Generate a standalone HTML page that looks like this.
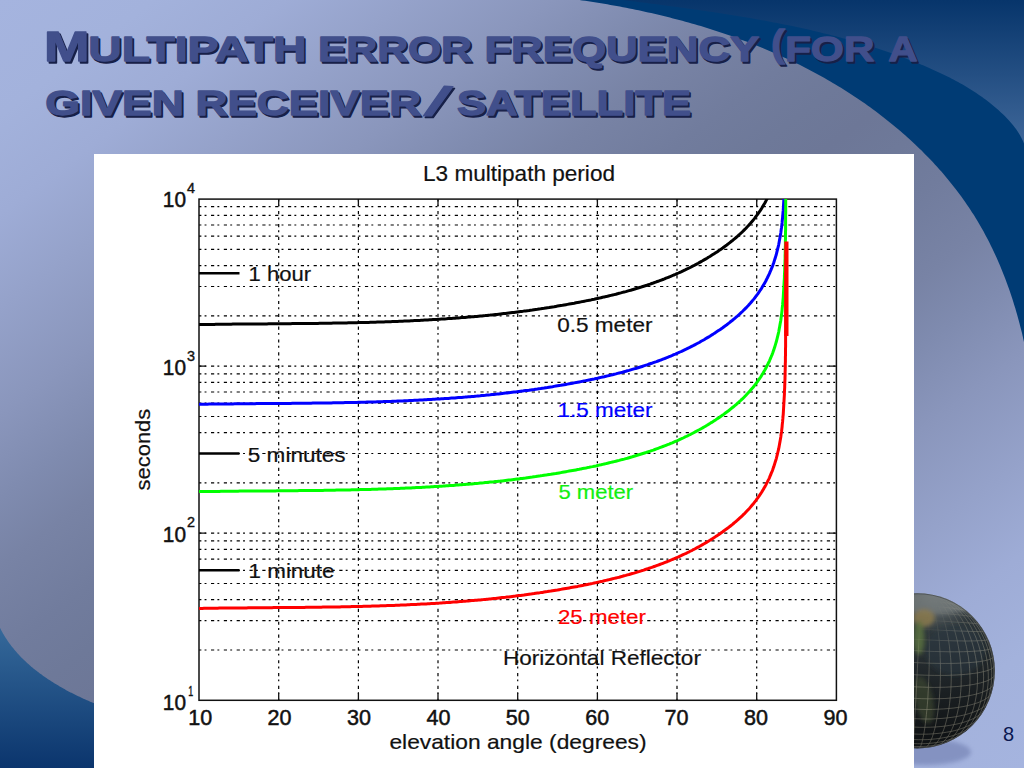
<!DOCTYPE html>
<html><head><meta charset="utf-8"><title>Multipath error frequency</title>
<style>
html,body{margin:0;padding:0;}
body{width:1024px;height:768px;overflow:hidden;position:relative;font-family:"Liberation Sans",sans-serif;
background:linear-gradient(to bottom right,#a5b4df 0.0%,#a3b2dc 7.5%,#9eacd6 14.0%,#95a2ca 20.0%,#8a96bc 27.0%,#7f8baf 32.5%,#7883a5 36.8%,#717c9d 42.5%,#6e7999 46.5%,#6d7797 50.0%,#6e7999 53.5%,#717c9d 57.5%,#7883a5 63.2%,#7f8baf 67.5%,#8a96bc 73.0%,#95a2ca 80.0%,#9eacd6 86.0%,#a3b2dc 92.5%,#a5b4df 100.0%);}
svg{position:absolute;left:0;top:0;}
</style></head><body>
<svg width="1024" height="768" viewBox="0 0 1024 768">
<defs>
<linearGradient id="sw2" gradientUnits="userSpaceOnUse" x1="0" y1="0" x2="0" y2="150"><stop offset="0" stop-color="#07356b"/><stop offset="1" stop-color="#41699b"/></linearGradient>
<linearGradient id="bl" gradientUnits="userSpaceOnUse" x1="0" y1="625" x2="0" y2="768"><stop offset="0" stop-color="#366a9b"/><stop offset="1" stop-color="#0b356d"/></linearGradient>
<radialGradient id="gg" gradientUnits="userSpaceOnUse" cx="935" cy="585" r="150" fx="935" fy="590"><stop offset="0" stop-color="#7f8586"/><stop offset="0.14" stop-color="#565e61"/><stop offset="0.3" stop-color="#2e363a"/><stop offset="0.7" stop-color="#1b2023"/><stop offset="1" stop-color="#101315"/></radialGradient>
<radialGradient id="gmg" gradientUnits="userSpaceOnUse" cx="905" cy="598" r="95"><stop offset="0" stop-color="#000"/><stop offset="0.35" stop-color="#0a0a0a"/><stop offset="0.7" stop-color="#ccc"/><stop offset="1" stop-color="#fff"/></radialGradient>
<filter id="blur2" x="-30%" y="-50%" width="160%" height="200%"><feGaussianBlur stdDeviation="2"/></filter>
<filter id="blur3" x="-30%" y="-30%" width="160%" height="160%"><feGaussianBlur stdDeviation="3"/></filter>
</defs>
<!-- top-right swoosh -->
<path d="M560.1,-2.5 L563.2,-2.1 L566.4,-1.8 L569.5,-1.4 L572.6,-0.9 L575.8,-0.5 L578.9,-0.1 L582.1,0.4 L585.2,0.8 L588.4,1.3 L591.5,1.8 L594.7,2.2 L597.8,2.7 L601.0,3.3 L604.1,3.8 L607.3,4.3 L610.4,4.9 L613.6,5.4 L616.7,6.0 L619.8,6.6 L623.0,7.2 L626.1,7.8 L629.3,8.4 L632.4,9.0 L635.5,9.7 L638.7,10.3 L641.8,11.0 L644.9,11.7 L648.1,12.4 L651.2,13.1 L654.3,13.8 L657.5,14.5 L660.6,15.3 L663.7,16.0 L666.8,16.8 L669.9,17.6 L673.0,18.4 L676.1,19.2 L679.2,20.0 L682.3,20.8 L685.4,21.7 L688.5,22.6 L691.6,23.4 L694.7,24.3 L697.8,25.2 L700.9,26.1 L703.9,27.1 L707.0,28.0 L710.1,29.0 L713.1,29.9 L716.2,30.9 L719.2,31.9 L722.3,33.0 L725.3,34.0 L728.3,35.0 L731.4,36.1 L734.4,37.2 L737.4,38.2 L740.4,39.4 L743.4,40.5 L746.4,41.6 L749.4,42.8 L752.4,43.9 L755.4,45.1 L758.3,46.3 L761.3,47.5 L764.3,48.7 L767.2,50.0 L770.1,51.2 L773.1,52.5 L776.0,53.8 L778.9,55.1 L781.8,56.4 L784.7,57.7 L787.6,59.1 L790.5,60.4 L793.4,61.8 L796.3,63.2 L799.1,64.6 L802.0,66.1 L804.8,67.5 L807.7,69.0 L810.5,70.4 L813.3,71.9 L816.1,73.5 L818.9,75.0 L821.7,76.5 L824.5,78.1 L827.3,79.7 L830.0,81.3 L832.8,82.9 L835.5,84.5 L838.3,86.2 L841.0,87.8 L843.7,89.5 L846.4,91.2 L849.1,92.9 L851.8,94.7 L854.4,96.4 L857.1,98.2 L859.7,100.0 L862.3,101.8 L865.0,103.6 L867.6,105.4 L870.2,107.3 L872.8,109.2 L875.3,111.1 L877.9,113.0 L880.4,114.9 L883.0,116.9 L885.5,118.9 L888.0,120.9 L890.5,122.9 L893.0,124.9 L895.4,126.9 L897.9,129.0 L900.3,131.1 L902.8,133.2 L905.2,135.3 L907.6,137.4 L909.9,139.6 L912.3,141.8 L914.7,143.9 L917.0,146.2 L919.3,148.4 L921.6,150.6 L923.9,152.9 L926.1,155.2 L928.4,157.5 L930.6,159.8 L932.8,162.1 L934.9,164.5 L937.1,166.8 L939.2,169.2 L941.4,171.6 L943.5,174.0 L945.5,176.5 L947.6,178.9 L949.6,181.4 L951.6,183.9 L953.6,186.4 L955.6,188.9 L957.5,191.5 L959.4,194.0 L961.3,196.6 L963.2,199.2 L965.0,201.8 L966.8,204.4 L968.6,207.1 L970.4,209.7 L972.1,212.4 L973.9,215.1 L975.5,217.8 L977.2,220.5 L978.8,223.3 L980.4,226.0 L982.0,228.8 L983.6,231.6 L985.1,234.4 L986.6,237.2 L988.1,240.0 L989.5,242.8 L990.9,245.7 L992.3,248.6 L993.7,251.5 L995.1,254.4 L996.4,257.3 L997.7,260.2 L998.9,263.1 L1000.2,266.1 L1001.4,269.0 L1002.6,272.0 L1003.8,274.9 L1005.0,277.9 L1006.1,280.9 L1007.2,283.9 L1008.3,286.9 L1009.4,290.0 L1010.4,293.0 L1011.4,296.0 L1012.4,299.1 L1013.4,302.2 L1014.3,305.2 L1015.3,308.3 L1016.2,311.4 L1017.1,314.5 L1017.9,317.6 L1018.8,320.7 L1019.6,323.8 L1020.4,326.9 L1021.2,330.0 L1022.0,333.1 L1022.7,336.2 L1023.4,339.4 L1024.1,342.5 L1024.8,345.6 L1025.5,348.8 L1026.1,351.9 L1026.8,355.1 L1027.4,358.2 L1030,-5 L560,-5 Z" fill="#003b74"/>
<path d="M600.0,-3.0 L602.4,-2.7 L604.7,-2.4 L607.1,-2.1 L609.4,-1.8 L611.7,-1.5 L614.1,-1.2 L616.4,-0.9 L618.8,-0.6 L621.1,-0.3 L623.5,0.1 L625.8,0.4 L628.2,0.7 L630.5,1.0 L632.9,1.3 L635.2,1.6 L637.6,1.9 L639.9,2.2 L642.3,2.5 L644.6,2.8 L647.0,3.1 L649.3,3.4 L651.7,3.7 L654.0,4.0 L656.4,4.3 L658.8,4.6 L661.1,4.9 L663.5,5.3 L665.8,5.6 L668.2,5.9 L670.5,6.2 L672.9,6.5 L675.2,6.8 L677.6,7.1 L679.9,7.5 L682.3,7.8 L684.6,8.1 L687.0,8.4 L689.3,8.8 L691.7,9.1 L694.0,9.4 L696.4,9.8 L698.7,10.1 L701.1,10.4 L703.4,10.8 L705.8,11.1 L708.1,11.4 L710.5,11.8 L712.8,12.1 L715.2,12.5 L717.5,12.8 L719.9,13.2 L722.2,13.6 L724.5,13.9 L726.9,14.3 L729.2,14.7 L731.6,15.0 L733.9,15.4 L736.3,15.8 L738.6,16.2 L740.9,16.6 L743.3,16.9 L745.6,17.3 L748.0,17.7 L750.3,18.1 L752.6,18.5 L755.0,18.9 L757.3,19.4 L759.6,19.8 L762.0,20.2 L764.3,20.6 L766.6,21.1 L769.0,21.5 L771.3,21.9 L773.6,22.4 L775.9,22.8 L778.3,23.3 L780.6,23.7 L782.9,24.2 L785.2,24.7 L787.5,25.1 L789.9,25.6 L792.2,26.1 L794.5,26.6 L796.8,27.1 L799.1,27.6 L801.4,28.1 L803.8,28.6 L806.1,29.1 L808.4,29.6 L810.7,30.1 L813.0,30.7 L815.3,31.2 L817.6,31.8 L819.9,32.3 L822.2,32.9 L824.5,33.4 L826.8,34.0 L829.1,34.6 L831.4,35.2 L833.7,35.7 L836.0,36.3 L838.2,36.9 L840.5,37.6 L842.8,38.2 L845.1,38.8 L847.4,39.4 L849.6,40.1 L851.9,40.7 L854.2,41.4 L856.5,42.0 L858.7,42.7 L861.0,43.4 L863.3,44.0 L865.5,44.7 L867.8,45.4 L870.1,46.1 L872.3,46.8 L874.6,47.6 L876.8,48.3 L879.1,49.0 L881.3,49.8 L883.6,50.5 L885.8,51.3 L888.1,52.1 L890.3,52.8 L892.6,53.6 L894.8,54.4 L897.0,55.2 L899.3,56.1 L901.5,56.9 L903.7,57.7 L906.0,58.5 L908.2,59.4 L910.4,60.3 L912.6,61.1 L914.8,62.0 L917.0,62.9 L919.3,63.8 L921.5,64.7 L923.7,65.6 L925.9,66.5 L928.1,67.5 L930.3,68.4 L932.4,69.4 L934.6,70.4 L936.8,71.4 L939.0,72.4 L941.1,73.4 L943.3,74.4 L945.4,75.5 L947.5,76.5 L949.7,77.6 L951.8,78.7 L953.9,79.8 L956.0,80.9 L958.1,82.0 L960.1,83.2 L962.2,84.3 L964.3,85.5 L966.3,86.7 L968.3,88.0 L970.3,89.2 L972.3,90.5 L974.3,91.7 L976.3,93.0 L978.3,94.4 L980.2,95.7 L982.1,97.1 L984.0,98.4 L985.9,99.8 L987.8,101.3 L989.7,102.7 L991.5,104.2 L993.3,105.7 L995.1,107.2 L996.9,108.7 L998.7,110.3 L1000.4,111.9 L1002.1,113.5 L1003.8,115.1 L1005.5,116.8 L1007.1,118.5 L1008.8,120.2 L1010.3,122.0 L1011.8,123.7 L1013.3,125.6 L1014.8,127.4 L1016.2,129.3 L1017.5,131.3 L1018.8,133.2 L1020.0,135.3 L1021.1,137.3 L1022.2,139.4 L1023.2,141.6 L1024.1,143.8 L1025.0,146.0 L1025.7,148.3 L1026.4,150.7 L1027.0,153.1 L1030,-5 L600,-5 Z" fill="url(#sw2)"/>
<!-- bottom-left -->
<path d="M-3.5,620.2 L-3.0,621.2 L-2.6,622.2 L-2.2,623.2 L-1.7,624.1 L-1.3,625.1 L-0.8,626.1 L-0.4,627.1 L0.1,628.0 L0.6,629.0 L1.1,629.9 L1.6,630.9 L2.1,631.8 L2.6,632.7 L3.1,633.7 L3.7,634.6 L4.2,635.5 L4.8,636.4 L5.3,637.3 L5.9,638.2 L6.5,639.0 L7.1,639.9 L7.6,640.8 L8.2,641.7 L8.8,642.5 L9.5,643.4 L10.1,644.2 L10.7,645.0 L11.3,645.9 L12.0,646.7 L12.6,647.5 L13.3,648.3 L13.9,649.1 L14.6,649.9 L15.3,650.7 L16.0,651.5 L16.6,652.3 L17.3,653.1 L18.0,653.9 L18.7,654.6 L19.5,655.4 L20.2,656.2 L20.9,656.9 L21.6,657.7 L22.4,658.4 L23.1,659.1 L23.9,659.9 L24.6,660.6 L25.4,661.3 L26.1,662.0 L26.9,662.7 L27.7,663.4 L28.4,664.1 L29.2,664.8 L30.0,665.5 L30.8,666.2 L31.6,666.9 L32.4,667.5 L33.2,668.2 L34.0,668.9 L34.9,669.5 L35.7,670.2 L36.5,670.8 L37.3,671.5 L38.2,672.1 L39.0,672.8 L39.9,673.4 L40.7,674.0 L41.6,674.6 L42.4,675.2 L43.3,675.9 L44.1,676.5 L45.0,677.1 L45.9,677.7 L46.8,678.3 L47.6,678.9 L48.5,679.4 L49.4,680.0 L50.3,680.6 L51.2,681.2 L52.1,681.8 L53.0,682.3 L53.9,682.9 L54.8,683.4 L55.7,684.0 L56.6,684.6 L57.5,685.1 L58.4,685.6 L59.3,686.2 L60.2,686.7 L61.2,687.3 L62.1,687.8 L63.0,688.3 L63.9,688.8 L64.9,689.3 L65.8,689.9 L66.7,690.4 L67.7,690.9 L68.6,691.4 L69.6,691.9 L70.5,692.4 L71.5,692.8 L72.4,693.3 L73.4,693.8 L74.3,694.3 L75.3,694.8 L76.2,695.2 L77.2,695.7 L78.1,696.2 L79.1,696.6 L80.1,697.1 L81.0,697.5 L82.0,698.0 L83.0,698.4 L84.0,698.9 L84.9,699.3 L85.9,699.7 L86.9,700.2 L87.9,700.6 L88.9,701.0 L89.8,701.4 L90.8,701.9 L91.8,702.3 L92.8,702.7 L93.8,703.1 L94.8,703.5 L95.8,703.9 L96.8,704.3 L97.8,704.7 L98.8,705.1 L99.8,705.4 L100.8,705.8 L101.8,706.2 L102.8,706.6 L103.8,706.9 L104.8,707.3 L105.8,707.7 L106.8,708.0 L107.8,708.4 L108.8,708.7 L109.8,709.1 L110.8,709.4 L111.8,709.8 L112.9,710.1 L113.9,710.5 L114.9,710.8 L115.9,711.1 L116.9,711.5 L117.9,711.8 L118.9,712.1 L120.0,712.4 L121.0,712.7 L122.0,713.0 L123.0,713.4 L124.0,713.7 L125.0,714.0 L126.1,714.3 L127.1,714.6 L128.1,714.8 L129.1,715.1 L130.1,715.4 L131.2,715.7 L132.2,716.0 L133.2,716.3 L134.2,716.5 L135.3,716.8 L136.3,717.1 L137.3,717.3 L138.3,717.6 L139.3,717.8 L140.4,718.1 L141.4,718.3 L142.4,718.6 L143.4,718.8 L144.4,719.1 L145.5,719.3 L146.5,719.6 L147.5,719.8 L148.5,720.0 L149.5,720.3 L150.5,720.5 L151.6,720.7 L152.6,720.9 L153.6,721.1 L154.6,721.3 L155.6,721.6 L156.6,721.8 L157.7,722.0 L158.7,722.2 L159.7,722.4 L160.7,722.6 L161.7,722.8 L162.7,722.9 L163.7,723.1 L164.7,723.3 L165.7,723.5 L166.7,723.7 L167.7,723.9 L168.7,724.0 L169.7,724.2 L170,770 L-3,770 Z" fill="url(#bl)"/>
<!-- globe -->
<ellipse cx="926" cy="752" rx="45" ry="13" fill="#7f8dbd" opacity="0.85" filter="url(#blur2)"/>
<clipPath id="gc"><circle cx="917.3" cy="670.8" r="77.6"/></clipPath>
<circle cx="917.3" cy="670.8" r="77.6" fill="url(#gg)"/>
<g clip-path="url(#gc)">
<g filter="url(#blur2)"><ellipse cx="935" cy="603" rx="42" ry="11" fill="#74797a" opacity="0.75"/><ellipse cx="924" cy="618" rx="11" ry="9" fill="#8a7a4e" opacity="0.85"/><ellipse cx="919" cy="638" rx="5.5" ry="17" fill="#5a713e" opacity="0.85"/><ellipse cx="924" cy="700" rx="9" ry="24" fill="#3d4a33" opacity="0.65" transform="rotate(-12 924 700)"/><ellipse cx="955" cy="650" rx="30" ry="25" fill="#2a3940" opacity="0.5"/></g>
<mask id="gm"><rect x="830" y="580" width="200" height="200" fill="url(#gmg)"/></mask>
<path mask="url(#gm)" d="M887.8,742.6 L890.3,743.5 L892.9,744.4 L895.6,745.1 L898.4,745.8 L901.2,746.4 L904.2,746.9 L907.2,747.4 L910.2,747.7 L913.3,747.9 L916.3,748.0 L919.4,748.0 L922.4,747.9 L925.4,747.7 L928.3,747.4 L931.1,747.0 L933.9,746.5 L936.6,745.9 L939.1,745.3 M874.3,735.4 L876.5,736.7 L878.8,737.9 L881.3,739.1 L884.0,740.3 L886.8,741.3 L889.8,742.3 L892.9,743.2 L896.1,744.0 L899.4,744.7 L902.8,745.3 L906.3,745.7 L909.8,746.1 L913.3,746.4 L916.9,746.5 L920.4,746.5 L923.9,746.4 L927.4,746.2 L930.7,745.8 L934.0,745.4 L937.2,744.8 L940.3,744.1 L943.2,743.4 L946.0,742.5 L948.6,741.6 L951.0,740.6 L953.3,739.5 M865.5,728.5 L867.4,730.0 L869.6,731.5 L872.0,732.9 L874.5,734.3 L877.3,735.6 L880.3,736.9 L883.5,738.0 L886.8,739.1 L890.3,740.1 L893.9,741.0 L897.7,741.7 L901.5,742.4 L905.5,742.9 L909.5,743.3 L913.5,743.6 L917.5,743.7 L921.5,743.8 L925.5,743.6 L929.4,743.4 L933.2,743.0 L936.9,742.5 L940.5,741.9 L943.9,741.2 L947.2,740.4 L950.3,739.4 L953.2,738.4 L955.9,737.3 L958.4,736.1 L960.7,734.9 L962.8,733.6 M857.5,720.2 L859.0,721.8 L860.8,723.4 L862.9,725.0 L865.2,726.5 L867.8,728.0 L870.6,729.5 L873.6,730.9 L876.9,732.2 L880.4,733.5 L884.1,734.6 L887.9,735.7 L892.0,736.6 L896.1,737.5 L900.4,738.2 L904.8,738.7 L909.2,739.2 L913.7,739.5 L918.2,739.7 L922.6,739.7 L927.1,739.6 L931.4,739.3 L935.6,738.9 L939.7,738.4 L943.7,737.7 L947.5,737.0 L951.1,736.1 L954.4,735.1 L957.6,734.0 L960.6,732.9 L963.3,731.6 L965.7,730.3 L967.9,729.0 L969.9,727.6 L971.7,726.1 M851.8,712.3 L853.2,713.9 L854.8,715.6 L856.7,717.2 L858.9,718.8 L861.3,720.4 L864.1,722.0 L867.1,723.5 L870.3,724.9 L873.9,726.3 L877.6,727.6 L881.6,728.8 L885.8,729.9 L890.2,730.9 L894.8,731.8 L899.4,732.6 L904.2,733.2 L909.1,733.7 L914.0,734.0 L918.9,734.2 L923.8,734.2 L928.6,734.1 L933.3,733.8 L938.0,733.4 L942.4,732.9 L946.7,732.2 L950.8,731.5 L954.7,730.6 L958.3,729.6 L961.7,728.5 L964.9,727.3 L967.8,726.0 L970.4,724.7 L972.7,723.3 L974.8,721.9 L976.6,720.4 L978.1,718.9 M847.1,703.6 L848.2,705.2 L849.6,706.9 L851.3,708.5 L853.2,710.1 L855.5,711.7 L858.1,713.3 L860.9,714.8 L864.1,716.4 L867.6,717.8 L871.3,719.2 L875.3,720.5 L879.6,721.8 L884.1,722.9 L888.8,723.9 L893.7,724.8 L898.7,725.6 L903.8,726.2 L909.1,726.7 L914.4,727.1 L919.6,727.3 L924.9,727.3 L930.1,727.2 L935.2,727.0 L940.1,726.6 L944.9,726.1 L949.5,725.4 L953.9,724.6 L958.0,723.8 L961.9,722.8 L965.5,721.7 L968.8,720.5 L971.8,719.3 L974.5,717.9 L976.9,716.6 L979.0,715.2 L980.9,713.7 L982.4,712.3 L983.7,710.8 M843.5,694.4 L844.3,695.9 L845.4,697.4 L846.8,699.0 L848.5,700.5 L850.5,702.1 L852.8,703.6 L855.5,705.2 L858.5,706.7 L861.8,708.1 L865.4,709.6 L869.3,710.9 L873.5,712.2 L878.0,713.4 L882.8,714.5 L887.7,715.5 L892.9,716.4 L898.2,717.2 L903.7,717.9 L909.2,718.4 L914.8,718.7 L920.4,718.9 L925.9,719.0 L931.4,719.0 L936.8,718.7 L942.0,718.4 L947.1,717.9 L951.9,717.3 L956.5,716.6 L960.8,715.7 L964.9,714.8 L968.6,713.7 L972.1,712.6 L975.2,711.4 L978.0,710.2 L980.5,708.9 L982.6,707.5 L984.5,706.2 L986.0,704.8 L987.3,703.4 L988.3,702.0 M841.0,684.8 L841.5,686.1 L842.3,687.5 L843.4,688.9 L844.8,690.4 L846.6,691.8 L848.6,693.3 L851.0,694.7 L853.7,696.1 L856.8,697.6 L860.2,698.9 L863.9,700.3 L868.0,701.6 L872.4,702.8 L877.0,704.0 L881.9,705.0 L887.1,706.0 L892.5,706.9 L898.0,707.6 L903.7,708.2 L909.5,708.7 L915.3,709.1 L921.1,709.4 L926.9,709.5 L932.6,709.4 L938.2,709.2 L943.7,708.9 L948.9,708.5 L953.9,708.0 L958.6,707.3 L963.1,706.6 L967.3,705.7 L971.1,704.8 L974.7,703.7 L977.9,702.7 L980.7,701.5 L983.3,700.3 L985.4,699.1 L987.3,697.8 L988.9,696.6 L990.1,695.3 L991.0,694.0 L991.7,692.7 M839.8,675.1 L840.1,676.2 L840.6,677.4 L841.4,678.7 L842.5,679.9 L843.9,681.2 L845.6,682.5 L847.7,683.8 L850.1,685.1 L852.9,686.4 L856.0,687.7 L859.5,689.0 L863.3,690.2 L867.4,691.4 L871.9,692.5 L876.7,693.5 L881.7,694.5 L887.0,695.4 L892.5,696.2 L898.2,696.9 L904.0,697.5 L909.9,698.0 L915.9,698.4 L921.8,698.7 L927.8,698.8 L933.6,698.8 L939.3,698.7 L944.9,698.5 L950.2,698.1 L955.3,697.7 L960.2,697.1 L964.7,696.5 L969.0,695.7 L972.9,694.9 L976.5,694.0 L979.7,693.1 L982.6,692.1 L985.1,691.0 L987.3,689.9 L989.2,688.8 L990.7,687.7 L992.0,686.6 L992.9,685.4 L993.5,684.3 L993.9,683.1 M839.9,666.4 L840.1,667.4 L840.6,668.5 L841.5,669.5 L842.6,670.6 L844.0,671.7 L845.7,672.8 L847.8,673.9 L850.3,675.1 L853.1,676.2 L856.2,677.3 L859.7,678.4 L863.5,679.4 L867.7,680.5 L872.2,681.5 L877.0,682.4 L882.1,683.3 L887.4,684.1 L892.9,684.8 L898.6,685.5 L904.5,686.0 L910.5,686.5 L916.5,686.9 L922.5,687.1 L928.4,687.3 L934.3,687.4 L940.1,687.3 L945.7,687.2 L951.0,686.9 L956.2,686.6 L961.1,686.1 L965.6,685.6 L969.9,685.0 L973.8,684.4 L977.4,683.6 L980.6,682.9 L983.5,682.0 L986.1,681.2 L988.3,680.3 L990.1,679.4 L991.6,678.4 L992.9,677.5 L993.8,676.5 L994.4,675.5 L994.7,674.6 M841.0,657.7 L841.2,658.5 L841.8,659.3 L842.6,660.2 L843.7,661.1 L845.2,662.0 L846.9,662.9 L849.0,663.8 L851.4,664.7 L854.2,665.7 L857.3,666.6 L860.8,667.5 L864.6,668.4 L868.8,669.3 L873.2,670.1 L878.0,670.9 L883.0,671.6 L888.3,672.3 L893.8,673.0 L899.5,673.6 L905.3,674.1 L911.1,674.5 L917.1,674.9 L923.0,675.1 L928.9,675.3 L934.8,675.4 L940.4,675.4 L946.0,675.4 L951.3,675.2 L956.4,675.0 L961.2,674.7 L965.7,674.3 L969.9,673.9 L973.8,673.4 L977.4,672.9 L980.6,672.3 L983.4,671.6 L986.0,671.0 L988.1,670.3 L990.0,669.6 L991.5,668.8 L992.7,668.1 L993.6,667.3 L994.2,666.5 L994.6,665.8 M843.0,648.4 L843.1,649.0 L843.4,649.6 L843.9,650.3 L844.8,650.9 L845.9,651.6 L847.4,652.3 L849.1,653.0 L851.2,653.7 L853.6,654.4 L856.4,655.1 L859.5,655.8 L862.9,656.6 L866.6,657.3 L870.7,658.0 L875.1,658.6 L879.7,659.3 L884.6,659.9 L889.7,660.5 L895.1,661.0 L900.6,661.5 L906.2,662.0 L912.0,662.4 L917.7,662.7 L923.5,663.0 L929.2,663.2 L934.9,663.3 L940.4,663.4 L945.8,663.4 L951.0,663.4 L955.9,663.3 L960.6,663.1 L965.0,662.9 L969.1,662.6 L972.9,662.3 L976.4,662.0 L979.5,661.6 L982.3,661.1 L984.8,660.7 L986.9,660.2 L988.8,659.7 L990.3,659.1 L991.5,658.6 L992.4,658.0 L993.0,657.5 L993.4,656.9 L993.5,656.3 M846.1,640.1 L846.2,640.5 L846.5,640.9 L847.2,641.4 L848.0,641.8 L849.2,642.3 L850.7,642.8 L852.4,643.3 L854.5,643.8 L856.8,644.3 L859.5,644.8 L862.5,645.4 L865.8,645.9 L869.4,646.4 L873.4,647.0 L877.6,647.5 L882.0,648.0 L886.7,648.5 L891.6,648.9 L896.8,649.4 L902.0,649.8 L907.4,650.2 L912.8,650.5 L918.3,650.8 L923.9,651.1 L929.3,651.3 L934.7,651.5 L940.0,651.6 L945.1,651.7 L950.0,651.8 L954.8,651.8 L959.3,651.8 L963.5,651.7 L967.4,651.6 L971.1,651.4 L974.4,651.2 L977.5,651.0 L980.2,650.8 L982.6,650.5 L984.7,650.2 L986.5,649.9 L988.0,649.6 L989.2,649.2 L990.1,648.9 L990.8,648.5 L991.2,648.1 L991.3,647.7 M850.1,632.2 L850.3,632.4 L850.7,632.6 L851.4,632.9 L852.3,633.2 L853.4,633.4 L854.9,633.7 L856.6,634.1 L858.6,634.4 L860.9,634.7 L863.5,635.1 L866.4,635.4 L869.6,635.8 L873.0,636.1 L876.7,636.5 L880.7,636.9 L884.9,637.2 L889.3,637.6 L894.0,637.9 L898.7,638.3 L903.7,638.6 L908.7,638.9 L913.8,639.2 L918.9,639.5 L924.1,639.8 L929.2,640.0 L934.2,640.2 L939.2,640.4 L944.0,640.6 L948.6,640.7 L953.0,640.8 L957.3,640.9 L961.2,640.9 L965.0,641.0 L968.4,641.0 L971.6,640.9 L974.5,640.9 L977.1,640.8 L979.5,640.7 L981.5,640.6 L983.2,640.5 L984.7,640.3 L985.9,640.2 L986.9,640.0 L987.5,639.8 L988.0,639.6 L988.2,639.4 M855.0,624.7 L855.3,624.8 L855.7,624.8 L856.4,624.9 L857.4,625.1 L858.5,625.2 L860.0,625.3 L861.7,625.5 L863.6,625.6 L865.8,625.8 L868.3,626.0 L871.0,626.2 L874.0,626.4 L877.2,626.7 L880.6,626.9 L884.3,627.1 L888.2,627.4 L892.3,627.6 L896.6,627.9 L901.0,628.1 L905.5,628.4 L910.1,628.6 L914.8,628.9 L919.5,629.2 L924.2,629.4 L928.9,629.6 L933.5,629.9 L938.0,630.1 L942.4,630.3 L946.7,630.5 L950.8,630.6 L954.7,630.8 L958.3,631.0 L961.8,631.1 L965.0,631.2 L968.0,631.3 L970.8,631.4 L973.2,631.5 L975.4,631.5 L977.4,631.5 L979.1,631.6 L980.5,631.6 L981.7,631.6 L982.6,631.6 L983.3,631.5 L983.8,631.5 L984.1,631.4 M860.7,617.8 L861.0,617.8 L861.6,617.7 L862.3,617.7 L863.3,617.7 L864.4,617.7 L865.8,617.7 L867.4,617.7 L869.3,617.8 L871.3,617.8 L873.6,617.9 L876.1,618.0 L878.9,618.1 L881.8,618.2 L885.0,618.3 L888.4,618.4 L891.9,618.6 L895.6,618.8 L899.4,618.9 L903.4,619.1 L907.4,619.3 L911.6,619.5 L915.8,619.7 L920.0,619.9 L924.2,620.2 L928.4,620.4 L932.5,620.6 L936.5,620.9 L940.5,621.1 L944.3,621.3 L948.0,621.5 L951.5,621.8 L954.9,622.0 L958.1,622.2 L961.0,622.4 L963.7,622.6 L966.3,622.8 L968.6,622.9 L970.6,623.1 L972.5,623.2 L974.1,623.4 L975.4,623.5 L976.6,623.6 L977.5,623.7 L978.3,623.8 L978.8,623.9 L979.1,624.0 M867.1,611.6 L867.5,611.5 L868.1,611.4 L868.8,611.3 L869.8,611.2 L870.9,611.1 L872.2,611.0 L873.7,611.0 L875.4,610.9 L877.3,610.9 L879.4,610.9 L881.7,610.9 L884.2,610.9 L886.9,610.9 L889.7,610.9 L892.7,611.0 L895.8,611.1 L899.0,611.2 L902.4,611.3 L905.9,611.4 L909.4,611.6 L913.0,611.7 L916.7,611.9 L920.4,612.1 L924.1,612.3 L927.7,612.5 L931.3,612.7 L934.9,612.9 L938.3,613.2 L941.7,613.4 L944.9,613.7 L948.1,613.9 L951.0,614.2 L953.8,614.4 L956.5,614.7 L958.9,614.9 L961.2,615.1 L963.3,615.4 L965.2,615.6 L966.9,615.9 L968.4,616.1 L969.7,616.3 L970.8,616.5 L971.7,616.7 L972.4,616.9 L973.0,617.0 L973.4,617.2 M874.2,606.3 L874.6,606.1 L875.2,606.0 L875.9,605.8 L876.8,605.7 L877.9,605.5 L879.1,605.4 L880.5,605.3 L882.0,605.2 L883.7,605.1 L885.6,605.0 L887.6,604.9 L889.8,604.9 L892.1,604.9 L894.5,604.9 L897.1,604.9 L899.8,604.9 L902.6,604.9 L905.4,605.0 L908.4,605.1 L911.4,605.2 L914.5,605.3 L917.6,605.5 L920.7,605.6 L923.8,605.8 L926.9,606.0 L930.0,606.2 L933.0,606.4 L936.0,606.6 L938.8,606.8 L941.6,607.1 L944.3,607.3 L946.9,607.6 L949.3,607.9 L951.6,608.1 L953.7,608.4 L955.7,608.7 L957.6,608.9 L959.3,609.2 L960.8,609.5 L962.2,609.7 L963.3,610.0 L964.4,610.2 L965.3,610.5 L966.0,610.7 L966.5,611.0 L966.9,611.2 M882.1,601.7 L882.6,601.5 L883.3,601.3 L884.2,601.1 L885.1,601.0 L886.2,600.8 L887.4,600.7 L888.8,600.6 L890.3,600.4 L891.8,600.3 L893.6,600.3 L895.4,600.2 L897.3,600.1 L899.4,600.1 L901.5,600.1 L903.8,600.1 L906.1,600.1 L908.4,600.1 L910.9,600.2 L913.4,600.3 L915.9,600.3 L918.4,600.5 L921.0,600.6 L923.5,600.7 L926.1,600.9 L928.6,601.1 L931.1,601.2 L933.5,601.4 L935.9,601.7 L938.2,601.9 L940.4,602.1 L942.5,602.4 L944.5,602.6 L946.5,602.9 L948.3,603.1 L950.0,603.4 L951.6,603.7 L953.0,603.9 L954.3,604.2 L955.5,604.5 L956.6,604.7 L957.5,605.0 L958.3,605.2 L959.0,605.5 L959.6,605.7 M890.4,598.0 L891.0,597.9 L891.7,597.7 L892.6,597.5 L893.5,597.4 L894.5,597.2 L895.6,597.1 L896.8,597.0 L898.1,596.9 L899.5,596.8 L901.0,596.7 L902.6,596.7 L904.2,596.6 L905.9,596.6 L907.7,596.6 L909.5,596.6 L911.4,596.6 L913.3,596.6 L915.2,596.7 L917.2,596.8 L919.2,596.8 L921.2,596.9 L923.2,597.1 L925.1,597.2 L927.1,597.3 L929.1,597.5 L931.0,597.6 L932.8,597.8 L934.6,598.0 L936.4,598.2 L938.1,598.4 L939.7,598.6 L941.2,598.9 L942.7,599.1 L944.1,599.3 L945.4,599.6 L946.6,599.8 L947.7,600.0 L948.7,600.3 L949.6,600.5 L950.4,600.8 L951.1,601.0 L951.7,601.2 M900.0,595.2 L900.7,595.1 L901.5,594.9 L902.4,594.8 L903.3,594.7 L904.3,594.7 L905.4,594.6 L906.5,594.5 L907.6,594.5 L908.9,594.4 L910.1,594.4 L911.4,594.4 L912.8,594.4 L914.1,594.4 L915.5,594.4 L917.0,594.4 L918.4,594.5 L919.8,594.5 L921.3,594.6 L922.7,594.7 L924.2,594.8 L925.6,594.9 L927.0,595.0 L928.4,595.1 L929.8,595.3 L931.1,595.4 L932.4,595.6 L933.7,595.7 L934.9,595.9 L936.0,596.1 L937.1,596.2 L938.2,596.4 L939.1,596.6 L940.1,596.8 L940.9,597.0 L941.7,597.2 L942.4,597.4 M911.0,593.5 L911.7,593.4 L912.5,593.4 L913.3,593.4 L914.1,593.3 L915.0,593.3 L915.8,593.3 L916.7,593.3 L917.6,593.3 L918.6,593.4 L919.5,593.4 L920.4,593.4 L921.4,593.5 L922.3,593.5 L923.2,593.6 L924.1,593.7 L925.1,593.7 L926.0,593.8 L926.8,593.9 L927.7,594.0 L928.6,594.1 L929.4,594.2 L930.2,594.3 L930.9,594.4 L931.7,594.6 M839.8,675.1 L839.7,670.8 L839.9,666.4 L840.3,662.1 L841.0,657.7 L841.9,653.3 L843.1,649.0 L844.5,644.7 L846.2,640.5 L848.1,636.4 L850.3,632.4 L852.7,628.5 L855.3,624.8 L858.1,621.2 L861.0,617.8 L864.2,614.5 L867.5,611.5 L871.0,608.7 L874.6,606.1 L878.3,603.8 L882.1,601.7 L885.9,599.8 M844.8,698.3 L843.5,694.4 L842.4,690.3 L841.5,686.1 L840.9,681.8 L840.6,677.4 L840.5,673.0 L840.6,668.5 L841.1,663.9 L841.8,659.3 L842.7,654.8 L843.9,650.3 L845.4,645.8 L847.2,641.4 L849.1,637.1 L851.4,632.9 L853.8,628.8 L856.4,624.9 L859.3,621.2 L862.3,617.7 L865.5,614.4 L868.8,611.3 L872.3,608.4 L875.9,605.8 L879.6,603.4 L883.3,601.3 L887.2,599.5 L891.0,597.9 L894.9,596.5 M853.9,715.5 L851.8,712.3 L849.9,708.9 L848.2,705.2 L846.7,701.4 L845.4,697.4 L844.3,693.2 L843.4,688.9 L842.8,684.5 L842.5,679.9 L842.4,675.3 L842.6,670.6 L843.0,665.8 L843.7,661.1 L844.7,656.3 L845.9,651.6 L847.4,646.9 L849.2,642.3 L851.2,637.8 L853.4,633.4 L855.9,629.2 L858.5,625.2 L861.4,621.3 L864.4,617.7 L867.6,614.3 L870.9,611.1 L874.3,608.2 L877.9,605.5 L881.5,603.1 L885.1,601.0 L888.8,599.1 L892.6,597.5 L896.3,596.2 L900.0,595.2 M861.3,724.5 L859.0,721.8 L856.8,718.8 L854.8,715.6 L852.9,712.1 L851.3,708.5 L849.8,704.6 L848.5,700.5 L847.4,696.2 L846.6,691.8 L846.0,687.2 L845.6,682.5 L845.6,677.7 L845.7,672.8 L846.2,667.9 L846.9,662.9 L847.9,657.9 L849.1,653.0 L850.6,648.1 L852.4,643.3 L854.4,638.6 L856.6,634.1 L859.0,629.7 L861.7,625.5 L864.5,621.5 L867.4,617.7 L870.5,614.2 L873.7,611.0 L877.1,608.0 L880.5,605.3 L883.9,602.8 L887.4,600.7 L891.0,598.8 L894.5,597.2 L898.0,596.0 L901.5,594.9 L905.0,594.2 M869.8,732.2 L867.4,730.0 L865.1,727.6 L862.9,725.0 L860.8,722.0 L858.9,718.8 L857.1,715.4 L855.5,711.7 L854.1,707.8 L852.8,703.6 L851.8,699.3 L851.0,694.7 L850.4,690.0 L850.1,685.1 L850.1,680.1 L850.3,675.1 L850.7,669.9 L851.4,664.7 L852.4,659.6 L853.6,654.4 L855.1,649.3 L856.8,644.3 L858.8,639.4 L860.9,634.7 L863.3,630.2 L865.8,625.8 L868.5,621.7 L871.3,617.8 L874.3,614.2 L877.3,610.9 L880.5,607.8 L883.7,605.1 L887.0,602.6 L890.3,600.4 L893.5,598.6 L896.8,597.0 L900.1,595.7 L903.3,594.7 L906.5,594.0 M876.5,736.7 L874.2,734.9 L872.0,732.9 L869.8,730.6 L867.8,728.0 L865.9,725.1 L864.1,722.0 L862.4,718.6 L860.9,714.8 L859.6,710.9 L858.5,706.7 L857.5,702.2 L856.8,697.6 L856.3,692.7 L856.0,687.7 L856.0,682.5 L856.2,677.3 L856.6,672.0 L857.3,666.6 L858.3,661.2 L859.5,655.8 L860.9,650.6 L862.5,645.4 L864.4,640.3 L866.4,635.4 L868.6,630.7 L871.0,626.2 L873.5,622.0 L876.1,618.0 L878.9,614.3 L881.7,610.9 L884.6,607.7 L887.6,604.9 L890.6,602.4 L893.6,600.3 L896.6,598.4 L899.5,596.8 L902.5,595.6 L905.4,594.6 L908.2,593.9 L911.0,593.5 M883.4,740.5 L881.3,739.1 L879.3,737.5 L877.3,735.6 L875.4,733.4 L873.6,730.9 L871.9,728.1 L870.3,724.9 L868.9,721.5 L867.6,717.8 L866.4,713.8 L865.4,709.6 L864.6,705.0 L863.9,700.3 L863.5,695.3 L863.3,690.2 L863.3,684.9 L863.5,679.4 L864.0,673.9 L864.6,668.4 L865.5,662.8 L866.6,657.3 L867.9,651.8 L869.4,646.4 L871.1,641.2 L873.0,636.1 L875.0,631.3 L877.2,626.7 L879.5,622.3 L881.8,618.2 L884.3,614.4 L886.9,610.9 L889.4,607.7 L892.1,604.9 L894.7,602.3 L897.3,600.1 L900.0,598.3 L902.6,596.7 L905.1,595.4 L907.6,594.5 L910.1,593.8 L912.5,593.4 M890.3,743.5 L888.5,742.6 L886.8,741.3 L885.1,739.8 L883.5,738.0 L881.9,735.9 L880.4,733.5 L879.0,730.7 L877.6,727.6 L876.4,724.2 L875.3,720.5 L874.3,716.5 L873.5,712.2 L872.9,707.6 L872.4,702.8 L872.0,697.7 L871.9,692.5 L871.9,687.0 L872.2,681.5 L872.6,675.8 L873.2,670.1 L874.1,664.4 L875.1,658.6 L876.2,653.0 L877.6,647.5 L879.1,642.1 L880.7,636.9 L882.5,631.9 L884.3,627.1 L886.3,622.6 L888.4,618.4 L890.5,614.6 L892.7,611.0 L894.9,607.8 L897.1,604.9 L899.3,602.3 L901.5,600.1 L903.7,598.2 L905.9,596.6 L908.0,595.3 L910.1,594.4 L912.2,593.7 L914.1,593.3 M895.6,745.1 L894.2,744.3 L892.9,743.2 L891.6,741.8 L890.3,740.1 L889.1,738.0 L887.9,735.7 L886.8,733.0 L885.8,729.9 L884.9,726.6 L884.1,722.9 L883.4,718.9 L882.8,714.5 L882.3,709.9 L881.9,705.0 L881.7,699.9 L881.7,694.5 L881.8,689.0 L882.1,683.3 L882.5,677.5 L883.0,671.6 L883.7,665.8 L884.6,659.9 L885.6,654.1 L886.7,648.5 L888.0,642.9 L889.3,637.6 L890.8,632.5 L892.3,627.6 L893.9,623.0 L895.6,618.8 L897.3,614.8 L899.0,611.2 L900.8,607.9 L902.6,604.9 L904.3,602.3 L906.1,600.1 L907.8,598.2 L909.5,596.6 L911.1,595.3 L912.8,594.4 L914.3,593.7 L915.8,593.3 M902.2,746.9 L901.2,746.4 L900.3,745.7 L899.4,744.7 L898.5,743.4 L897.7,741.7 L896.9,739.8 L896.1,737.5 L895.4,734.8 L894.8,731.8 L894.2,728.5 L893.7,724.8 L893.2,720.8 L892.9,716.4 L892.6,711.8 L892.5,706.9 L892.4,701.7 L892.5,696.2 L892.6,690.6 L892.9,684.8 L893.3,678.9 L893.8,673.0 L894.4,667.0 L895.1,661.0 L895.9,655.1 L896.8,649.4 L897.7,643.7 L898.7,638.3 L899.8,633.1 L901.0,628.1 L902.2,623.5 L903.4,619.1 L904.6,615.1 L905.9,611.4 L907.1,608.1 L908.4,605.1 L909.6,602.5 L910.9,600.2 L912.1,598.3 L913.3,596.6 L914.4,595.4 L915.5,594.4 L916.6,593.7 L917.6,593.3 M907.6,747.7 L907.2,747.4 L906.7,746.7 L906.3,745.7 L905.9,744.5 L905.5,742.9 L905.1,741.0 L904.8,738.7 L904.5,736.1 L904.2,733.2 L904.0,729.9 L903.8,726.2 L903.7,722.2 L903.7,717.9 L903.6,713.2 L903.7,708.2 L903.8,703.0 L904.0,697.5 L904.2,691.9 L904.5,686.0 L904.8,680.1 L905.3,674.1 L905.7,668.0 L906.2,662.0 L906.8,656.0 L907.4,650.2 L908.0,644.4 L908.7,638.9 L909.4,633.7 L910.1,628.6 L910.8,623.9 L911.6,619.5 L912.3,615.4 L913.0,611.7 L913.8,608.3 L914.5,605.3 L915.2,602.7 L915.9,600.3 L916.5,598.4 L917.2,596.8 L917.8,595.5 L918.4,594.5 L919.0,593.8 L919.5,593.4 M913.2,748.2 L913.3,747.9 L913.3,747.3 L913.3,746.4 L913.4,745.1 L913.5,743.6 L913.6,741.7 L913.7,739.5 L913.8,736.9 L914.0,734.0 L914.2,730.7 L914.4,727.1 L914.6,723.1 L914.8,718.7 L915.0,714.1 L915.3,709.1 L915.6,703.9 L915.9,698.4 L916.2,692.7 L916.5,686.9 L916.8,680.9 L917.1,674.9 L917.4,668.8 L917.7,662.7 L918.0,656.7 L918.3,650.8 L918.6,645.1 L918.9,639.5 L919.2,634.2 L919.5,629.2 L919.7,624.4 L920.0,619.9 L920.2,615.8 L920.4,612.1 L920.6,608.7 L920.7,605.6 L920.9,602.9 L921.0,600.6 L921.1,598.6 L921.2,596.9 L921.2,595.6 L921.3,594.6 L921.3,593.9 L921.4,593.5 M918.9,748.3 L919.4,748.0 L919.9,747.4 L920.4,746.5 L921.0,745.3 L921.5,743.8 L922.1,741.9 L922.6,739.7 L923.2,737.1 L923.8,734.2 L924.3,730.9 L924.9,727.3 L925.4,723.3 L925.9,719.0 L926.4,714.4 L926.9,709.5 L927.4,704.2 L927.8,698.8 L928.1,693.1 L928.4,687.3 L928.7,681.3 L928.9,675.3 L929.1,669.2 L929.2,663.2 L929.3,657.2 L929.3,651.3 L929.3,645.6 L929.2,640.0 L929.0,634.7 L928.9,629.6 L928.6,624.9 L928.4,620.4 L928.1,616.3 L927.7,612.5 L927.3,609.0 L926.9,606.0 L926.5,603.3 L926.1,600.9 L925.6,598.9 L925.1,597.2 L924.7,595.8 L924.2,594.8 L923.7,594.0 L923.2,593.6 M924.4,748.0 L925.4,747.7 L926.4,747.1 L927.4,746.2 L928.4,744.9 L929.4,743.4 L930.4,741.5 L931.4,739.3 L932.4,736.8 L933.3,733.8 L934.3,730.6 L935.2,727.0 L936.0,723.0 L936.8,718.7 L937.6,714.1 L938.2,709.2 L938.8,704.1 L939.3,698.7 L939.7,693.1 L940.1,687.3 L940.3,681.4 L940.4,675.4 L940.5,669.4 L940.4,663.4 L940.2,657.5 L940.0,651.6 L939.6,645.9 L939.2,640.4 L938.6,635.1 L938.0,630.1 L937.3,625.3 L936.5,620.9 L935.7,616.7 L934.9,612.9 L934.0,609.5 L933.0,606.4 L932.1,603.6 L931.1,601.2 L930.1,599.2 L929.1,597.5 L928.0,596.1 L927.0,595.0 L926.0,594.2 L925.1,593.7 M931.1,747.0 L932.6,746.3 L934.0,745.4 L935.5,744.1 L936.9,742.5 L938.3,740.6 L939.7,738.4 L941.1,735.8 L942.4,732.9 L943.7,729.7 L944.9,726.1 L946.0,722.1 L947.1,717.9 L948.0,713.4 L948.9,708.5 L949.6,703.4 L950.2,698.1 L950.7,692.6 L951.0,686.9 L951.2,681.1 L951.3,675.2 L951.2,669.3 L951.0,663.4 L950.6,657.5 L950.0,651.8 L949.4,646.1 L948.6,640.7 L947.7,635.5 L946.7,630.5 L945.5,625.7 L944.3,621.3 L943.0,617.2 L941.7,613.4 L940.3,610.0 L938.8,606.8 L937.4,604.1 L935.9,601.7 L934.3,599.6 L932.8,597.8 L931.3,596.4 L929.8,595.3 L928.3,594.4 L926.8,593.9 M936.6,745.9 L938.4,745.2 L940.3,744.1 L942.1,742.8 L943.9,741.2 L945.7,739.2 L947.5,737.0 L949.2,734.4 L950.8,731.5 L952.4,728.2 L953.9,724.6 L955.2,720.8 L956.5,716.6 L957.6,712.1 L958.6,707.3 L959.5,702.3 L960.2,697.1 L960.7,691.7 L961.1,686.1 L961.2,680.5 L961.2,674.7 L961.0,668.9 L960.6,663.1 L960.0,657.4 L959.3,651.8 L958.3,646.2 L957.3,640.9 L956.0,635.7 L954.7,630.8 L953.2,626.1 L951.5,621.8 L949.8,617.7 L948.1,613.9 L946.2,610.5 L944.3,607.3 L942.4,604.6 L940.4,602.1 L938.4,600.0 L936.4,598.2 L934.4,596.7 L932.4,595.6 L930.5,594.7 L928.6,594.1 M943.8,743.7 L946.0,742.5 L948.1,741.1 L950.3,739.4 L952.4,737.4 L954.4,735.1 L956.4,732.5 L958.3,729.6 L960.2,726.3 L961.9,722.8 L963.4,718.9 L964.9,714.8 L966.2,710.4 L967.3,705.7 L968.2,700.8 L969.0,695.7 L969.5,690.4 L969.9,685.0 L970.0,679.5 L969.9,673.9 L969.6,668.3 L969.1,662.6 L968.4,657.1 L967.4,651.6 L966.3,646.2 L965.0,641.0 L963.5,635.9 L961.8,631.1 L960.0,626.5 L958.1,622.2 L956.0,618.1 L953.8,614.4 L951.6,611.0 L949.3,607.9 L946.9,605.1 L944.5,602.6 L942.1,600.5 L939.7,598.6 L937.3,597.1 L934.9,595.9 L932.5,595.0 L930.2,594.3 M951.0,740.6 L953.5,739.1 L955.9,737.3 L958.3,735.2 L960.6,732.9 L962.8,730.2 L964.9,727.3 L966.9,724.0 L968.8,720.5 L970.5,716.7 L972.1,712.6 L973.5,708.3 L974.7,703.7 L975.7,699.0 L976.5,694.0 L977.1,688.9 L977.4,683.6 L977.5,678.3 L977.4,672.9 L977.0,667.4 L976.4,662.0 L975.5,656.6 L974.4,651.2 L973.1,646.0 L971.6,640.9 L969.9,636.0 L968.0,631.3 L966.0,626.8 L963.7,622.6 L961.4,618.6 L958.9,614.9 L956.4,611.5 L953.7,608.4 L951.0,605.6 L948.3,603.1 L945.5,600.9 L942.7,599.1 L939.9,597.5 L937.1,596.2 L934.4,595.3 L931.7,594.6 M958.1,736.8 L960.7,734.9 L963.3,732.8 L965.7,730.3 L968.1,727.7 L970.4,724.7 L972.5,721.4 L974.5,717.9 L976.3,714.2 L978.0,710.2 L979.5,706.0 L980.7,701.5 L981.8,696.9 L982.6,692.1 L983.2,687.1 L983.5,682.0 L983.6,676.9 L983.4,671.6 L983.0,666.4 L982.3,661.1 L981.4,655.9 L980.2,650.8 L978.8,645.7 L977.1,640.8 L975.3,636.0 L973.2,631.5 L971.0,627.1 L968.6,622.9 L966.0,619.0 L963.3,615.4 L960.5,612.0 L957.6,608.9 L954.6,606.1 L951.6,603.7 L948.5,601.5 L945.4,599.6 L942.3,597.9 L939.1,596.6 L936.1,595.6 M967.3,730.1 L969.9,727.6 L972.4,724.9 L974.8,721.9 L977.0,718.6 L979.0,715.2 L980.9,711.5 L982.6,707.5 L984.2,703.4 L985.4,699.1 L986.5,694.6 L987.3,689.9 L987.9,685.2 L988.3,680.3 L988.3,675.3 L988.1,670.3 L987.7,665.2 L986.9,660.2 L986.0,655.2 L984.7,650.2 L983.2,645.4 L981.5,640.6 L979.5,636.0 L977.4,631.5 L975.0,627.3 L972.5,623.2 L969.7,619.4 L966.9,615.9 L963.9,612.5 L960.8,609.5 L957.6,606.7 L954.3,604.2 L951.0,602.0 L947.7,600.0 L944.3,598.4 L940.9,597.0 L937.5,595.9 M975.7,721.9 L978.1,718.9 L980.3,715.7 L982.4,712.3 L984.3,708.6 L986.0,704.8 L987.6,700.8 L988.9,696.6 L989.9,692.2 L990.7,687.7 L991.3,683.1 L991.6,678.4 L991.7,673.6 L991.5,668.8 L991.0,664.0 L990.3,659.1 L989.3,654.3 L988.0,649.6 L986.5,644.9 L984.7,640.3 L982.7,635.9 L980.5,631.6 L978.1,627.5 L975.4,623.5 L972.6,619.8 L969.7,616.3 L966.6,613.0 L963.3,610.0 L960.0,607.2 L956.6,604.7 L953.1,602.5 L949.6,600.5 L946.0,598.8 L942.4,597.4 M986.6,705.7 L988.3,702.0 L989.8,698.0 L991.0,694.0 L992.1,689.8 L992.9,685.4 L993.5,681.0 L993.8,676.5 L993.8,671.9 L993.6,667.3 L993.1,662.7 L992.4,658.0 L991.4,653.4 L990.1,648.9 L988.6,644.4 L986.9,640.0 L984.8,635.7 L982.6,631.6 L980.2,627.6 L977.5,623.7 L974.7,620.1 L971.7,616.7 L968.6,613.5 L965.3,610.5 L961.8,607.7 L958.3,605.2 L954.7,603.0 L951.1,601.0 L947.4,599.3 M993.9,683.1 L994.5,678.9 L994.7,674.6 L994.8,670.2 L994.6,665.8 L994.1,661.3 L993.4,656.9 L992.4,652.5 L991.2,648.1 L989.7,643.8 L988.0,639.6 L986.0,635.5 L983.8,631.5 L981.4,627.6 L978.8,623.9 L976.0,620.4 L973.0,617.0 L969.8,613.9 L966.5,611.0 L963.1,608.2 L959.6,605.7 L955.9,603.5" fill="none" stroke="#cfc8ae" stroke-width="0.6" opacity="0.5"/>
</g>
<circle cx="917.3" cy="670.8" r="77.1" fill="none" stroke="#3a4046" stroke-width="1" opacity="0.6" clip-path="url(#gc)"/>
<!-- title -->
<g font-family="Liberation Sans, sans-serif" font-weight="bold" stroke-width="1.3" stroke-linejoin="round">
<g fill="#172048" stroke="#172048" transform="translate(1.7,1.7)">
<text transform="translate(43.94,60.95) skewX(0)" textLength="45.49" lengthAdjust="spacingAndGlyphs"><tspan font-size="43.2">M</tspan></text>
<text transform="translate(88.36,60.95) skewX(0)" textLength="217.88" lengthAdjust="spacingAndGlyphs"><tspan font-size="34.5">ULTIPATH</tspan></text>
<text transform="translate(317.95,60.95) skewX(0)" textLength="153.86" lengthAdjust="spacingAndGlyphs"><tspan font-size="34.5">ERROR</tspan></text>
<text transform="translate(484.38,60.95) skewX(0)" textLength="274.82" lengthAdjust="spacingAndGlyphs"><tspan font-size="34.5">FREQUENCY</tspan></text>
<text transform="translate(770.96,55.9) skewX(0)" textLength="13.84" lengthAdjust="spacingAndGlyphs"><tspan font-size="37.6">(</tspan></text>
<text transform="translate(784.95,60.95) skewX(0)" textLength="89.46" lengthAdjust="spacingAndGlyphs"><tspan font-size="34.5">FOR</tspan></text>
<text transform="translate(888.37,60.95) skewX(0)" textLength="29.25" lengthAdjust="spacingAndGlyphs"><tspan font-size="34.5">A</tspan></text>
<text transform="translate(45.36,115.25) skewX(0)" textLength="138.49" lengthAdjust="spacingAndGlyphs"><tspan font-size="34.5">GIVEN</tspan></text>
<text transform="translate(195.58,115.25) skewX(0)" textLength="225.42" lengthAdjust="spacingAndGlyphs"><tspan font-size="34.5">RECEIVER</tspan></text>
<text transform="translate(457.00,115.25) skewX(0)" textLength="234.00" lengthAdjust="spacingAndGlyphs"><tspan font-size="34.5">SATELLITE</tspan></text>
<path d="M423.5,115.8 L431.6,115.8 L452.9,86.6 L444.3,86.1 Z"/>
</g>
<g fill="#414f8b" stroke="#414f8b">
<text transform="translate(43.94,60.95) skewX(0)" textLength="45.49" lengthAdjust="spacingAndGlyphs"><tspan font-size="43.2">M</tspan></text>
<text transform="translate(88.36,60.95) skewX(0)" textLength="217.88" lengthAdjust="spacingAndGlyphs"><tspan font-size="34.5">ULTIPATH</tspan></text>
<text transform="translate(317.95,60.95) skewX(0)" textLength="153.86" lengthAdjust="spacingAndGlyphs"><tspan font-size="34.5">ERROR</tspan></text>
<text transform="translate(484.38,60.95) skewX(0)" textLength="274.82" lengthAdjust="spacingAndGlyphs"><tspan font-size="34.5">FREQUENCY</tspan></text>
<text transform="translate(770.96,55.9) skewX(0)" textLength="13.84" lengthAdjust="spacingAndGlyphs"><tspan font-size="37.6">(</tspan></text>
<text transform="translate(784.95,60.95) skewX(0)" textLength="89.46" lengthAdjust="spacingAndGlyphs"><tspan font-size="34.5">FOR</tspan></text>
<text transform="translate(888.37,60.95) skewX(0)" textLength="29.25" lengthAdjust="spacingAndGlyphs"><tspan font-size="34.5">A</tspan></text>
<text transform="translate(45.36,115.25) skewX(0)" textLength="138.49" lengthAdjust="spacingAndGlyphs"><tspan font-size="34.5">GIVEN</tspan></text>
<text transform="translate(195.58,115.25) skewX(0)" textLength="225.42" lengthAdjust="spacingAndGlyphs"><tspan font-size="34.5">RECEIVER</tspan></text>
<text transform="translate(457.00,115.25) skewX(0)" textLength="234.00" lengthAdjust="spacingAndGlyphs"><tspan font-size="34.5">SATELLITE</tspan></text>
<path d="M423.5,115.8 L431.6,115.8 L452.9,86.6 L444.3,86.1 Z"/>
</g>
</g>
<!-- chart -->
<rect x="94" y="154" width="820" height="614" fill="#fff"/>
<g stroke="#000" stroke-width="1.2" fill="none" stroke-dasharray="3.2 3.2 1.9 4.53" stroke-dashoffset="0.83" >
<path d="M199.0,650.0H836.4"/>
<path d="M199.0,620.6H836.4"/>
<path d="M199.0,599.7H836.4"/>
<path d="M199.0,583.5H836.4"/>
<path d="M199.0,570.3H836.4"/>
<path d="M199.0,559.1H836.4"/>
<path d="M199.0,549.4H836.4"/>
<path d="M199.0,540.9H836.4"/>
<path d="M199.0,533.2H836.4"/>
<path d="M199.0,482.9H836.4"/>
<path d="M199.0,453.5H836.4"/>
<path d="M199.0,432.6H836.4"/>
<path d="M199.0,416.5H836.4"/>
<path d="M199.0,403.2H836.4"/>
<path d="M199.0,392.0H836.4"/>
<path d="M199.0,382.4H836.4"/>
<path d="M199.0,373.8H836.4"/>
<path d="M199.0,366.2H836.4"/>
<path d="M199.0,315.9H836.4"/>
<path d="M199.0,286.5H836.4"/>
<path d="M199.0,265.6H836.4"/>
<path d="M199.0,249.4H836.4"/>
<path d="M199.0,236.2H836.4"/>
<path d="M199.0,225.0H836.4"/>
<path d="M199.0,215.3H836.4"/>
<path d="M199.0,206.7H836.4"/>
<path d="M278.7,199.1V700.3"/>
<path d="M358.4,199.1V700.3"/>
<path d="M438.0,199.1V700.3"/>
<path d="M517.7,199.1V700.3"/>
<path d="M597.4,199.1V700.3"/>
<path d="M677.0,199.1V700.3"/>
<path d="M756.7,199.1V700.3"/>
</g>
<rect x="199.0" y="199.1" width="637.4" height="501.2" fill="none" stroke="#111" stroke-width="1.5"/>
<g stroke="#111" stroke-width="1.3">
<path d="M278.7,700.3v-7M278.7,199.1v7"/>
<path d="M358.4,700.3v-7M358.4,199.1v7"/>
<path d="M438.0,700.3v-7M438.0,199.1v7"/>
<path d="M517.7,700.3v-7M517.7,199.1v7"/>
<path d="M597.4,700.3v-7M597.4,199.1v7"/>
<path d="M677.0,700.3v-7M677.0,199.1v7"/>
<path d="M756.7,700.3v-7M756.7,199.1v7"/>
<path d="M199.0,533.2h7M836.4,533.2h-7"/>
<path d="M199.0,366.2h7M836.4,366.2h-7"/>
</g>
<clipPath id="pc"><rect x="199.0" y="199.1" width="637.4" height="501.2"/></clipPath>
<g clip-path="url(#pc)" fill="none" stroke-width="3" stroke-linejoin="round">
<path d="M198.9,324.6 L200.6,324.5 L202.3,324.5 L204.0,324.5 L205.7,324.5 L207.4,324.4 L209.1,324.4 L210.8,324.4 L212.5,324.4 L214.2,324.4 L215.9,324.3 L217.6,324.3 L219.3,324.3 L221.0,324.3 L222.7,324.3 L224.4,324.2 L226.1,324.2 L227.8,324.2 L229.5,324.2 L231.2,324.2 L232.9,324.1 L234.6,324.1 L236.3,324.1 L238.0,324.1 L239.7,324.1 L241.4,324.1 L243.1,324.0 L244.8,324.0 L246.5,324.0 L248.2,324.0 L249.9,324.0 L251.6,324.0 L253.3,324.0 L255.0,323.9 L256.7,323.9 L258.4,323.9 L260.1,323.9 L261.8,323.9 L263.5,323.9 L265.2,323.9 L266.9,323.9 L268.6,323.8 L270.3,323.8 L272.0,323.8 L273.7,323.8 L275.4,323.8 L277.1,323.8 L278.8,323.8 L280.5,323.7 L282.2,323.7 L283.9,323.7 L285.6,323.7 L287.3,323.7 L289.0,323.7 L290.7,323.7 L292.4,323.6 L294.1,323.6 L295.8,323.6 L297.5,323.6 L299.2,323.6 L300.9,323.6 L302.6,323.5 L304.3,323.5 L306.0,323.5 L307.7,323.5 L309.4,323.5 L311.1,323.4 L312.8,323.4 L314.5,323.4 L316.2,323.4 L317.9,323.4 L319.6,323.3 L321.2,323.3 L322.9,323.3 L324.6,323.3 L326.3,323.2 L328.0,323.2 L329.7,323.2 L331.4,323.2 L333.1,323.1 L334.8,323.1 L336.5,323.1 L338.2,323.0 L339.9,323.0 L341.6,323.0 L343.3,322.9 L345.0,322.9 L346.7,322.9 L348.4,322.8 L350.1,322.8 L351.8,322.8 L353.5,322.7 L355.2,322.7 L356.9,322.7 L358.5,322.6 L360.2,322.6 L361.9,322.5 L363.6,322.5 L365.3,322.5 L367.0,322.4 L368.7,322.4 L370.4,322.3 L372.1,322.3 L373.8,322.2 L375.5,322.2 L377.2,322.1 L378.9,322.1 L380.6,322.0 L382.3,321.9 L383.9,321.9 L385.6,321.8 L387.3,321.8 L389.0,321.7 L390.7,321.7 L392.4,321.6 L394.1,321.5 L395.8,321.5 L397.5,321.4 L399.2,321.3 L400.9,321.3 L402.6,321.2 L404.3,321.1 L405.9,321.0 L407.6,321.0 L409.3,320.9 L411.0,320.8 L412.7,320.7 L414.4,320.6 L416.1,320.6 L417.8,320.5 L419.5,320.4 L421.2,320.3 L422.8,320.2 L424.5,320.1 L426.2,320.0 L427.9,319.9 L429.6,319.8 L431.3,319.7 L433.0,319.6 L434.7,319.5 L436.4,319.4 L438.0,319.3 L439.7,319.2 L441.4,319.1 L443.1,319.0 L444.8,318.9 L446.5,318.8 L448.2,318.6 L449.9,318.5 L451.5,318.4 L453.2,318.3 L454.9,318.2 L456.6,318.0 L458.3,317.9 L460.0,317.8 L461.7,317.6 L463.4,317.5 L465.0,317.4 L466.7,317.2 L468.4,317.1 L470.1,316.9 L471.8,316.8 L473.5,316.7 L475.2,316.5 L476.8,316.4 L478.5,316.2 L480.2,316.0 L481.9,315.9 L483.6,315.7 L485.3,315.6 L486.9,315.4 L488.6,315.2 L490.3,315.1 L492.0,314.9 L493.7,314.7 L495.4,314.5 L497.0,314.4 L498.7,314.2 L500.4,314.0 L502.1,313.8 L503.8,313.6 L505.5,313.4 L507.1,313.2 L508.8,313.0 L510.5,312.8 L512.2,312.6 L513.9,312.4 L515.5,312.2 L517.2,312.0 L518.9,311.8 L520.6,311.6 L522.3,311.4 L523.9,311.1 L525.6,310.9 L527.3,310.7 L529.0,310.5 L530.7,310.2 L532.3,310.0 L534.0,309.7 L535.7,309.5 L537.4,309.3 L539.1,309.0 L540.7,308.8 L542.4,308.5 L544.1,308.3 L545.8,308.0 L547.4,307.7 L549.1,307.5 L550.8,307.2 L552.5,306.9 L554.1,306.7 L555.8,306.4 L557.5,306.1 L559.2,305.8 L560.8,305.5 L562.5,305.3 L564.2,305.0 L565.9,304.7 L567.5,304.4 L569.2,304.1 L570.9,303.8 L572.6,303.5 L574.2,303.2 L575.9,302.8 L577.6,302.5 L579.3,302.2 L580.9,301.9 L582.6,301.6 L584.3,301.2 L585.9,300.9 L587.6,300.6 L589.3,300.2 L591.0,299.9 L592.6,299.5 L594.3,299.2 L596.0,298.8 L597.6,298.4 L599.3,298.1 L601.0,297.7 L602.6,297.3 L604.3,296.9 L606.0,296.6 L607.6,296.2 L609.3,295.8 L610.9,295.4 L612.6,295.0 L614.2,294.6 L615.9,294.2 L617.5,293.7 L619.2,293.3 L620.8,292.9 L622.5,292.4 L624.1,292.0 L625.8,291.6 L627.4,291.1 L629.1,290.6 L630.7,290.2 L632.3,289.7 L634.0,289.2 L635.6,288.7 L637.2,288.3 L638.8,287.8 L640.5,287.3 L642.1,286.7 L643.7,286.2 L645.3,285.7 L646.9,285.2 L648.5,284.6 L650.1,284.1 L651.7,283.5 L653.3,283.0 L654.9,282.4 L656.5,281.8 L658.1,281.3 L659.7,280.7 L661.3,280.1 L662.9,279.5 L664.5,278.9 L666.0,278.2 L667.6,277.6 L669.2,277.0 L670.7,276.3 L672.3,275.7 L673.8,275.0 L675.4,274.4 L676.9,273.7 L678.5,273.0 L680.0,272.3 L681.6,271.6 L683.1,270.9 L684.6,270.2 L686.1,269.4 L687.7,268.7 L689.2,268.0 L690.7,267.2 L692.2,266.4 L693.7,265.7 L695.2,264.9 L696.7,264.1 L698.2,263.3 L699.7,262.4 L701.1,261.6 L702.6,260.8 L704.1,259.9 L705.5,259.1 L707.0,258.2 L708.4,257.3 L709.9,256.5 L711.3,255.6 L712.8,254.6 L714.2,253.7 L715.6,252.8 L717.0,251.9 L718.5,250.9 L719.9,249.9 L721.3,249.0 L722.7,248.0 L724.0,247.0 L725.4,246.0 L726.8,245.0 L728.2,243.9 L729.5,242.9 L730.8,241.8 L732.2,240.8 L733.5,239.7 L734.8,238.6 L736.1,237.5 L737.4,236.4 L738.6,235.2 L739.9,234.1 L741.1,233.0 L742.4,231.8 L743.6,230.6 L744.8,229.4 L746.0,228.2 L747.1,227.0 L748.3,225.8 L749.4,224.5 L750.5,223.3 L751.6,222.0 L752.7,220.7 L753.8,219.4 L754.8,218.1 L755.8,216.7 L756.8,215.4 L757.8,214.0 L758.8,212.7 L759.7,211.3 L760.7,209.9 L761.6,208.5 L762.4,207.1 L763.3,205.6 L764.1,204.2 L765.0,202.7 L765.8,201.2 L766.5,199.8 L767.3,198.3 L768.0,196.8 L768.8,195.3 L769.5,193.7 L770.1,192.2 L770.8,190.6 L771.4,189.1 L772.1,187.5 L772.7,186.0 L773.2,184.4 L773.8,182.8 L774.3,181.2 L774.8,179.6 L775.3,178.0 L775.8,176.4 L776.3,174.8 L776.7,173.1 L777.1,171.5 L777.5,169.8 L777.9,168.2 L778.3,166.5 L778.7,164.9 L779.0,163.2 L779.3,161.6 L779.6,159.9 L779.9,158.2 L780.2,156.5 L780.5,154.8 L780.8,153.2 L781.0,151.5 L781.2,149.8 L781.5,148.1 L781.7,146.4 L781.9,144.7 L782.1,143.0 L782.2,141.3 L782.4,139.5 L782.6,137.8 L782.7,136.1 L782.9,134.4 L783.0,132.7 L783.2,131.0 L783.3,129.3 L783.4,127.5 L783.5,125.8 L783.6,124.1 L783.7,122.4 L783.8,120.7 L783.9,119.0 L784.0,117.3 L784.1,115.6 L784.2,113.8 L784.3,112.1 L784.4,110.4 L784.4,108.7 L784.5,107.0 L784.6,105.3 L784.7,103.6 L784.7,101.9 L784.8,100.2 L784.8,98.5 L784.9,96.8 L785.0,95.1 L785.0,93.4 L785.1,91.7 L785.1,90.0 L785.1,88.3 L785.2,86.6 L785.2,85.0 L785.3,83.3 L785.3,81.6 L785.3,79.9 L785.4,78.2 L785.4,76.5 L785.4,74.8 L785.4,73.1 L785.5,71.4 L785.5,69.8 L785.5,68.1 L785.5,66.4 L785.5,64.7 L785.6,63.0 L785.6,61.3 L785.6,59.6 L785.6,58.0 L785.6,56.3 L785.6,54.6 L785.6,52.9 L785.6,51.2 L785.6,49.5 L785.6,47.8 L785.7,46.2 L785.7,44.5 L785.7,42.8 L785.7,41.1 L785.7,39.4 L785.7,37.7 L785.7,36.1 L785.7,34.4 L785.7,32.7 L785.7,31.0 L785.7,29.3 L785.7,27.6 L785.7,26.0 L785.7,24.3 L785.7,22.6 L785.7,20.9 L785.7,19.2 L785.7,17.5 L785.7,15.8 L785.7,14.1 L785.7,12.5 L785.7,10.8 L785.7,9.1 L785.7,7.4 L785.7,5.7 L785.7,4.0 L785.7,2.3 L785.8,0.6 L785.8,-1.1 L785.8,-2.8 L785.8,-4.5 L785.8,-6.2 L785.8,-7.9 L785.8,-9.5 L785.9,-11.2 L785.9,-12.9 L785.9,-14.6 L785.9,-16.3 L785.9,-18.0 L786.0,-19.7 L786.0,-21.5 L786.0,-23.2 L786.1,-24.9 L786.1,-26.6 L786.1,-28.3 L786.2,-30.0 L786.2,-31.7 L786.3,-33.4 L786.3,-35.1 L786.4,-36.8 L786.4,-38.6 L786.5,-40.3 L786.5,-42.0" stroke="#000000"/>
<path d="M198.9,404.3 L200.6,404.3 L202.3,404.2 L204.0,404.2 L205.7,404.2 L207.4,404.2 L209.1,404.1 L210.8,404.1 L212.5,404.1 L214.2,404.1 L215.9,404.0 L217.6,404.0 L219.3,404.0 L221.0,404.0 L222.7,404.0 L224.4,403.9 L226.1,403.9 L227.8,403.9 L229.5,403.9 L231.2,403.9 L232.9,403.9 L234.6,403.8 L236.3,403.8 L238.0,403.8 L239.7,403.8 L241.4,403.8 L243.1,403.8 L244.8,403.7 L246.5,403.7 L248.2,403.7 L249.9,403.7 L251.6,403.7 L253.3,403.7 L255.0,403.7 L256.7,403.6 L258.4,403.6 L260.1,403.6 L261.8,403.6 L263.5,403.6 L265.2,403.6 L266.9,403.6 L268.6,403.6 L270.3,403.5 L272.0,403.5 L273.7,403.5 L275.4,403.5 L277.1,403.5 L278.8,403.5 L280.5,403.5 L282.2,403.4 L283.9,403.4 L285.6,403.4 L287.3,403.4 L289.0,403.4 L290.7,403.4 L292.4,403.3 L294.1,403.3 L295.8,403.3 L297.5,403.3 L299.2,403.3 L300.9,403.3 L302.6,403.2 L304.3,403.2 L306.0,403.2 L307.7,403.2 L309.4,403.2 L311.1,403.2 L312.8,403.1 L314.5,403.1 L316.2,403.1 L317.9,403.1 L319.6,403.0 L321.2,403.0 L322.9,403.0 L324.6,403.0 L326.3,402.9 L328.0,402.9 L329.7,402.9 L331.4,402.9 L333.1,402.8 L334.8,402.8 L336.5,402.8 L338.2,402.8 L339.9,402.7 L341.6,402.7 L343.3,402.7 L345.0,402.6 L346.7,402.6 L348.4,402.6 L350.1,402.5 L351.8,402.5 L353.5,402.4 L355.2,402.4 L356.9,402.4 L358.5,402.3 L360.2,402.3 L361.9,402.2 L363.6,402.2 L365.3,402.2 L367.0,402.1 L368.7,402.1 L370.4,402.0 L372.1,402.0 L373.8,401.9 L375.5,401.9 L377.2,401.8 L378.9,401.8 L380.6,401.7 L382.3,401.7 L383.9,401.6 L385.6,401.5 L387.3,401.5 L389.0,401.4 L390.7,401.4 L392.4,401.3 L394.1,401.2 L395.8,401.2 L397.5,401.1 L399.2,401.0 L400.9,401.0 L402.6,400.9 L404.3,400.8 L405.9,400.7 L407.6,400.7 L409.3,400.6 L411.0,400.5 L412.7,400.4 L414.4,400.3 L416.1,400.3 L417.8,400.2 L419.5,400.1 L421.2,400.0 L422.8,399.9 L424.5,399.8 L426.2,399.7 L427.9,399.6 L429.6,399.5 L431.3,399.4 L433.0,399.3 L434.7,399.2 L436.4,399.1 L438.0,399.0 L439.7,398.9 L441.4,398.8 L443.1,398.7 L444.8,398.6 L446.5,398.5 L448.2,398.4 L449.9,398.2 L451.5,398.1 L453.2,398.0 L454.9,397.9 L456.6,397.7 L458.3,397.6 L460.0,397.5 L461.7,397.4 L463.4,397.2 L465.0,397.1 L466.7,396.9 L468.4,396.8 L470.1,396.7 L471.8,396.5 L473.5,396.4 L475.2,396.2 L476.8,396.1 L478.5,395.9 L480.2,395.8 L481.9,395.6 L483.6,395.4 L485.3,395.3 L486.9,395.1 L488.6,394.9 L490.3,394.8 L492.0,394.6 L493.7,394.4 L495.4,394.2 L497.0,394.1 L498.7,393.9 L500.4,393.7 L502.1,393.5 L503.8,393.3 L505.5,393.1 L507.1,392.9 L508.8,392.7 L510.5,392.5 L512.2,392.3 L513.9,392.1 L515.5,391.9 L517.2,391.7 L518.9,391.5 L520.6,391.3 L522.3,391.1 L523.9,390.8 L525.6,390.6 L527.3,390.4 L529.0,390.2 L530.7,389.9 L532.3,389.7 L534.0,389.5 L535.7,389.2 L537.4,389.0 L539.1,388.7 L540.7,388.5 L542.4,388.2 L544.1,388.0 L545.8,387.7 L547.4,387.5 L549.1,387.2 L550.8,386.9 L552.5,386.7 L554.1,386.4 L555.8,386.1 L557.5,385.8 L559.2,385.5 L560.8,385.3 L562.5,385.0 L564.2,384.7 L565.9,384.4 L567.5,384.1 L569.2,383.8 L570.9,383.5 L572.6,383.2 L574.2,382.9 L575.9,382.6 L577.6,382.2 L579.3,381.9 L580.9,381.6 L582.6,381.3 L584.3,380.9 L585.9,380.6 L587.6,380.3 L589.3,379.9 L591.0,379.6 L592.6,379.2 L594.3,378.9 L596.0,378.5 L597.6,378.2 L599.3,377.8 L601.0,377.4 L602.6,377.0 L604.3,376.7 L606.0,376.3 L607.6,375.9 L609.3,375.5 L610.9,375.1 L612.6,374.7 L614.2,374.3 L615.9,373.9 L617.5,373.4 L619.2,373.0 L620.8,372.6 L622.5,372.2 L624.1,371.7 L625.8,371.3 L627.4,370.8 L629.1,370.4 L630.7,369.9 L632.3,369.4 L634.0,368.9 L635.6,368.5 L637.2,368.0 L638.8,367.5 L640.5,367.0 L642.1,366.5 L643.7,365.9 L645.3,365.4 L646.9,364.9 L648.5,364.3 L650.1,363.8 L651.7,363.3 L653.3,362.7 L654.9,362.1 L656.5,361.6 L658.1,361.0 L659.7,360.4 L661.3,359.8 L662.9,359.2 L664.5,358.6 L666.0,358.0 L667.6,357.3 L669.2,356.7 L670.7,356.1 L672.3,355.4 L673.8,354.7 L675.4,354.1 L676.9,353.4 L678.5,352.7 L680.0,352.0 L681.6,351.3 L683.1,350.6 L684.6,349.9 L686.1,349.2 L687.7,348.4 L689.2,347.7 L690.7,346.9 L692.2,346.1 L693.7,345.4 L695.2,344.6 L696.7,343.8 L698.2,343.0 L699.7,342.2 L701.1,341.3 L702.6,340.5 L704.1,339.7 L705.5,338.8 L707.0,337.9 L708.4,337.1 L709.9,336.2 L711.3,335.3 L712.8,334.4 L714.2,333.4 L715.6,332.5 L717.0,331.6 L718.5,330.6 L719.9,329.7 L721.3,328.7 L722.7,327.7 L724.0,326.7 L725.4,325.7 L726.8,324.7 L728.2,323.6 L729.5,322.6 L730.8,321.5 L732.2,320.5 L733.5,319.4 L734.8,318.3 L736.1,317.2 L737.4,316.1 L738.6,315.0 L739.9,313.8 L741.1,312.7 L742.4,311.5 L743.6,310.3 L744.8,309.1 L746.0,307.9 L747.1,306.7 L748.3,305.5 L749.4,304.2 L750.5,303.0 L751.6,301.7 L752.7,300.4 L753.8,299.1 L754.8,297.8 L755.8,296.5 L756.8,295.1 L757.8,293.8 L758.8,292.4 L759.7,291.0 L760.7,289.6 L761.6,288.2 L762.4,286.8 L763.3,285.3 L764.1,283.9 L765.0,282.4 L765.8,281.0 L766.5,279.5 L767.3,278.0 L768.0,276.5 L768.8,275.0 L769.5,273.4 L770.1,271.9 L770.8,270.4 L771.4,268.8 L772.1,267.2 L772.7,265.7 L773.2,264.1 L773.8,262.5 L774.3,260.9 L774.8,259.3 L775.3,257.7 L775.8,256.1 L776.3,254.5 L776.7,252.8 L777.1,251.2 L777.5,249.6 L777.9,247.9 L778.3,246.3 L778.7,244.6 L779.0,242.9 L779.3,241.3 L779.6,239.6 L779.9,237.9 L780.2,236.2 L780.5,234.6 L780.8,232.9 L781.0,231.2 L781.2,229.5 L781.5,227.8 L781.7,226.1 L781.9,224.4 L782.1,222.7 L782.2,221.0 L782.4,219.3 L782.6,217.5 L782.7,215.8 L782.9,214.1 L783.0,212.4 L783.2,210.7 L783.3,209.0 L783.4,207.3 L783.5,205.5 L783.6,203.8 L783.7,202.1 L783.8,200.4 L783.9,198.7 L784.0,197.0 L784.1,195.3 L784.2,193.6 L784.3,191.9 L784.4,190.1 L784.4,188.4 L784.5,186.7 L784.6,185.0 L784.7,183.3 L784.7,181.6 L784.8,179.9 L784.8,178.2 L784.9,176.5 L785.0,174.8 L785.0,173.1 L785.1,171.4 L785.1,169.7 L785.1,168.1 L785.2,166.4 L785.2,164.7 L785.3,163.0 L785.3,161.3 L785.3,159.6 L785.4,157.9 L785.4,156.2 L785.4,154.5 L785.4,152.8 L785.5,151.1 L785.5,149.5 L785.5,147.8 L785.5,146.1 L785.5,144.4 L785.6,142.7 L785.6,141.0 L785.6,139.3 L785.6,137.7 L785.6,136.0 L785.6,134.3 L785.6,132.6 L785.6,130.9 L785.6,129.2 L785.6,127.6 L785.7,125.9 L785.7,124.2 L785.7,122.5 L785.7,120.8 L785.7,119.1 L785.7,117.5 L785.7,115.8 L785.7,114.1 L785.7,112.4 L785.7,110.7 L785.7,109.0 L785.7,107.3 L785.7,105.7 L785.7,104.0 L785.7,102.3 L785.7,100.6 L785.7,98.9 L785.7,97.2 L785.7,95.5 L785.7,93.9 L785.7,92.2 L785.7,90.5 L785.7,88.8 L785.7,87.1 L785.7,85.4 L785.7,83.7 L785.7,82.0 L785.8,80.3 L785.8,78.6 L785.8,76.9 L785.8,75.3 L785.8,73.6 L785.8,71.9 L785.8,70.2 L785.9,68.5 L785.9,66.8 L785.9,65.1 L785.9,63.4 L785.9,61.7 L786.0,60.0 L786.0,58.3 L786.0,56.6 L786.1,54.8 L786.1,53.1 L786.1,51.4 L786.2,49.7 L786.2,48.0 L786.3,46.3 L786.3,44.6 L786.4,42.9 L786.4,41.2 L786.5,39.4 L786.5,37.7" stroke="#0000ff"/>
<path d="M198.9,491.6 L200.6,491.6 L202.3,491.6 L204.0,491.6 L205.7,491.5 L207.4,491.5 L209.1,491.5 L210.8,491.5 L212.5,491.4 L214.2,491.4 L215.9,491.4 L217.6,491.4 L219.3,491.4 L221.0,491.3 L222.7,491.3 L224.4,491.3 L226.1,491.3 L227.8,491.3 L229.5,491.2 L231.2,491.2 L232.9,491.2 L234.6,491.2 L236.3,491.2 L238.0,491.2 L239.7,491.1 L241.4,491.1 L243.1,491.1 L244.8,491.1 L246.5,491.1 L248.2,491.1 L249.9,491.1 L251.6,491.0 L253.3,491.0 L255.0,491.0 L256.7,491.0 L258.4,491.0 L260.1,491.0 L261.8,491.0 L263.5,490.9 L265.2,490.9 L266.9,490.9 L268.6,490.9 L270.3,490.9 L272.0,490.9 L273.7,490.9 L275.4,490.9 L277.1,490.8 L278.8,490.8 L280.5,490.8 L282.2,490.8 L283.9,490.8 L285.6,490.8 L287.3,490.7 L289.0,490.7 L290.7,490.7 L292.4,490.7 L294.1,490.7 L295.8,490.7 L297.5,490.7 L299.2,490.6 L300.9,490.6 L302.6,490.6 L304.3,490.6 L306.0,490.6 L307.7,490.5 L309.4,490.5 L311.1,490.5 L312.8,490.5 L314.5,490.5 L316.2,490.4 L317.9,490.4 L319.6,490.4 L321.2,490.4 L322.9,490.4 L324.6,490.3 L326.3,490.3 L328.0,490.3 L329.7,490.3 L331.4,490.2 L333.1,490.2 L334.8,490.2 L336.5,490.1 L338.2,490.1 L339.9,490.1 L341.6,490.0 L343.3,490.0 L345.0,490.0 L346.7,489.9 L348.4,489.9 L350.1,489.9 L351.8,489.8 L353.5,489.8 L355.2,489.8 L356.9,489.7 L358.5,489.7 L360.2,489.6 L361.9,489.6 L363.6,489.6 L365.3,489.5 L367.0,489.5 L368.7,489.4 L370.4,489.4 L372.1,489.3 L373.8,489.3 L375.5,489.2 L377.2,489.2 L378.9,489.1 L380.6,489.1 L382.3,489.0 L383.9,489.0 L385.6,488.9 L387.3,488.8 L389.0,488.8 L390.7,488.7 L392.4,488.7 L394.1,488.6 L395.8,488.5 L397.5,488.5 L399.2,488.4 L400.9,488.3 L402.6,488.2 L404.3,488.2 L405.9,488.1 L407.6,488.0 L409.3,487.9 L411.0,487.9 L412.7,487.8 L414.4,487.7 L416.1,487.6 L417.8,487.5 L419.5,487.4 L421.2,487.4 L422.8,487.3 L424.5,487.2 L426.2,487.1 L427.9,487.0 L429.6,486.9 L431.3,486.8 L433.0,486.7 L434.7,486.6 L436.4,486.5 L438.0,486.4 L439.7,486.3 L441.4,486.2 L443.1,486.1 L444.8,485.9 L446.5,485.8 L448.2,485.7 L449.9,485.6 L451.5,485.5 L453.2,485.4 L454.9,485.2 L456.6,485.1 L458.3,485.0 L460.0,484.8 L461.7,484.7 L463.4,484.6 L465.0,484.4 L466.7,484.3 L468.4,484.2 L470.1,484.0 L471.8,483.9 L473.5,483.7 L475.2,483.6 L476.8,483.4 L478.5,483.3 L480.2,483.1 L481.9,482.9 L483.6,482.8 L485.3,482.6 L486.9,482.5 L488.6,482.3 L490.3,482.1 L492.0,481.9 L493.7,481.8 L495.4,481.6 L497.0,481.4 L498.7,481.2 L500.4,481.1 L502.1,480.9 L503.8,480.7 L505.5,480.5 L507.1,480.3 L508.8,480.1 L510.5,479.9 L512.2,479.7 L513.9,479.5 L515.5,479.3 L517.2,479.1 L518.9,478.9 L520.6,478.6 L522.3,478.4 L523.9,478.2 L525.6,478.0 L527.3,477.7 L529.0,477.5 L530.7,477.3 L532.3,477.1 L534.0,476.8 L535.7,476.6 L537.4,476.3 L539.1,476.1 L540.7,475.8 L542.4,475.6 L544.1,475.3 L545.8,475.1 L547.4,474.8 L549.1,474.5 L550.8,474.3 L552.5,474.0 L554.1,473.7 L555.8,473.5 L557.5,473.2 L559.2,472.9 L560.8,472.6 L562.5,472.3 L564.2,472.0 L565.9,471.7 L567.5,471.4 L569.2,471.1 L570.9,470.8 L572.6,470.5 L574.2,470.2 L575.9,469.9 L577.6,469.6 L579.3,469.3 L580.9,468.9 L582.6,468.6 L584.3,468.3 L585.9,468.0 L587.6,467.6 L589.3,467.3 L591.0,466.9 L592.6,466.6 L594.3,466.2 L596.0,465.9 L597.6,465.5 L599.3,465.1 L601.0,464.8 L602.6,464.4 L604.3,464.0 L606.0,463.6 L607.6,463.2 L609.3,462.8 L610.9,462.4 L612.6,462.0 L614.2,461.6 L615.9,461.2 L617.5,460.8 L619.2,460.4 L620.8,459.9 L622.5,459.5 L624.1,459.1 L625.8,458.6 L627.4,458.2 L629.1,457.7 L630.7,457.2 L632.3,456.8 L634.0,456.3 L635.6,455.8 L637.2,455.3 L638.8,454.8 L640.5,454.3 L642.1,453.8 L643.7,453.3 L645.3,452.8 L646.9,452.2 L648.5,451.7 L650.1,451.2 L651.7,450.6 L653.3,450.1 L654.9,449.5 L656.5,448.9 L658.1,448.3 L659.7,447.7 L661.3,447.1 L662.9,446.5 L664.5,445.9 L666.0,445.3 L667.6,444.7 L669.2,444.1 L670.7,443.4 L672.3,442.8 L673.8,442.1 L675.4,441.4 L676.9,440.8 L678.5,440.1 L680.0,439.4 L681.6,438.7 L683.1,438.0 L684.6,437.2 L686.1,436.5 L687.7,435.8 L689.2,435.0 L690.7,434.3 L692.2,433.5 L693.7,432.7 L695.2,431.9 L696.7,431.1 L698.2,430.3 L699.7,429.5 L701.1,428.7 L702.6,427.9 L704.1,427.0 L705.5,426.2 L707.0,425.3 L708.4,424.4 L709.9,423.5 L711.3,422.6 L712.8,421.7 L714.2,420.8 L715.6,419.9 L717.0,418.9 L718.5,418.0 L719.9,417.0 L721.3,416.0 L722.7,415.1 L724.0,414.1 L725.4,413.0 L726.8,412.0 L728.2,411.0 L729.5,410.0 L730.8,408.9 L732.2,407.8 L733.5,406.8 L734.8,405.7 L736.1,404.6 L737.4,403.4 L738.6,402.3 L739.9,401.2 L741.1,400.0 L742.4,398.9 L743.6,397.7 L744.8,396.5 L746.0,395.3 L747.1,394.1 L748.3,392.8 L749.4,391.6 L750.5,390.3 L751.6,389.0 L752.7,387.8 L753.8,386.5 L754.8,385.1 L755.8,383.8 L756.8,382.5 L757.8,381.1 L758.8,379.7 L759.7,378.4 L760.7,377.0 L761.6,375.5 L762.4,374.1 L763.3,372.7 L764.1,371.2 L765.0,369.8 L765.8,368.3 L766.5,366.8 L767.3,365.3 L768.0,363.8 L768.8,362.3 L769.5,360.8 L770.1,359.3 L770.8,357.7 L771.4,356.2 L772.1,354.6 L772.7,353.0 L773.2,351.5 L773.8,349.9 L774.3,348.3 L774.8,346.7 L775.3,345.1 L775.8,343.4 L776.3,341.8 L776.7,340.2 L777.1,338.6 L777.5,336.9 L777.9,335.3 L778.3,333.6 L778.7,332.0 L779.0,330.3 L779.3,328.6 L779.6,327.0 L779.9,325.3 L780.2,323.6 L780.5,321.9 L780.8,320.2 L781.0,318.5 L781.2,316.8 L781.5,315.1 L781.7,313.4 L781.9,311.7 L782.1,310.0 L782.2,308.3 L782.4,306.6 L782.6,304.9 L782.7,303.2 L782.9,301.5 L783.0,299.8 L783.2,298.0 L783.3,296.3 L783.4,294.6 L783.5,292.9 L783.6,291.2 L783.7,289.5 L783.8,287.8 L783.9,286.0 L784.0,284.3 L784.1,282.6 L784.2,280.9 L784.3,279.2 L784.4,277.5 L784.4,275.8 L784.5,274.1 L784.6,272.4 L784.7,270.7 L784.7,269.0 L784.8,267.3 L784.8,265.6 L784.9,263.9 L785.0,262.2 L785.0,260.5 L785.1,258.8 L785.1,257.1 L785.1,255.4 L785.2,253.7 L785.2,252.0 L785.3,250.3 L785.3,248.6 L785.3,247.0 L785.4,245.3 L785.4,243.6 L785.4,241.9 L785.4,240.2 L785.5,238.5 L785.5,236.8 L785.5,235.1 L785.5,233.4 L785.5,231.8 L785.6,230.1 L785.6,228.4 L785.6,226.7 L785.6,225.0 L785.6,223.3 L785.6,221.6 L785.6,220.0 L785.6,218.3 L785.6,216.6 L785.6,214.9 L785.7,213.2 L785.7,211.5 L785.7,209.9 L785.7,208.2 L785.7,206.5 L785.7,204.8 L785.7,203.1 L785.7,201.4 L785.7,199.8 L785.7,198.1 L785.7,196.4 L785.7,194.7 L785.7,193.0 L785.7,191.3 L785.7,189.6 L785.7,188.0 L785.7,186.3 L785.7,184.6 L785.7,182.9 L785.7,181.2 L785.7,179.5 L785.7,177.8 L785.7,176.1 L785.7,174.5 L785.7,172.8 L785.7,171.1 L785.7,169.4 L785.8,167.7 L785.8,166.0 L785.8,164.3 L785.8,162.6 L785.8,160.9 L785.8,159.2 L785.8,157.5 L785.9,155.8 L785.9,154.1 L785.9,152.4 L785.9,150.7 L785.9,149.0 L786.0,147.3 L786.0,145.6 L786.0,143.9 L786.1,142.2 L786.1,140.5 L786.1,138.8 L786.2,137.1 L786.2,135.4 L786.3,133.7 L786.3,131.9 L786.4,130.2 L786.4,128.5 L786.5,126.8 L786.5,125.1" stroke="#00ff00"/>
<path d="M198.9,608.4 L200.6,608.4 L202.3,608.4 L204.0,608.3 L205.7,608.3 L207.4,608.3 L209.1,608.3 L210.8,608.2 L212.5,608.2 L214.2,608.2 L215.9,608.2 L217.6,608.2 L219.3,608.1 L221.0,608.1 L222.7,608.1 L224.4,608.1 L226.1,608.1 L227.8,608.0 L229.5,608.0 L231.2,608.0 L232.9,608.0 L234.6,608.0 L236.3,608.0 L238.0,607.9 L239.7,607.9 L241.4,607.9 L243.1,607.9 L244.8,607.9 L246.5,607.9 L248.2,607.8 L249.9,607.8 L251.6,607.8 L253.3,607.8 L255.0,607.8 L256.7,607.8 L258.4,607.8 L260.1,607.7 L261.8,607.7 L263.5,607.7 L265.2,607.7 L266.9,607.7 L268.6,607.7 L270.3,607.7 L272.0,607.7 L273.7,607.6 L275.4,607.6 L277.1,607.6 L278.8,607.6 L280.5,607.6 L282.2,607.6 L283.9,607.6 L285.6,607.5 L287.3,607.5 L289.0,607.5 L290.7,607.5 L292.4,607.5 L294.1,607.5 L295.8,607.4 L297.5,607.4 L299.2,607.4 L300.9,607.4 L302.6,607.4 L304.3,607.4 L306.0,607.3 L307.7,607.3 L309.4,607.3 L311.1,607.3 L312.8,607.3 L314.5,607.2 L316.2,607.2 L317.9,607.2 L319.6,607.2 L321.2,607.2 L322.9,607.1 L324.6,607.1 L326.3,607.1 L328.0,607.1 L329.7,607.0 L331.4,607.0 L333.1,607.0 L334.8,606.9 L336.5,606.9 L338.2,606.9 L339.9,606.9 L341.6,606.8 L343.3,606.8 L345.0,606.8 L346.7,606.7 L348.4,606.7 L350.1,606.7 L351.8,606.6 L353.5,606.6 L355.2,606.5 L356.9,606.5 L358.5,606.5 L360.2,606.4 L361.9,606.4 L363.6,606.3 L365.3,606.3 L367.0,606.2 L368.7,606.2 L370.4,606.2 L372.1,606.1 L373.8,606.1 L375.5,606.0 L377.2,606.0 L378.9,605.9 L380.6,605.8 L382.3,605.8 L383.9,605.7 L385.6,605.7 L387.3,605.6 L389.0,605.6 L390.7,605.5 L392.4,605.4 L394.1,605.4 L395.8,605.3 L397.5,605.2 L399.2,605.2 L400.9,605.1 L402.6,605.0 L404.3,604.9 L405.9,604.9 L407.6,604.8 L409.3,604.7 L411.0,604.6 L412.7,604.6 L414.4,604.5 L416.1,604.4 L417.8,604.3 L419.5,604.2 L421.2,604.1 L422.8,604.0 L424.5,604.0 L426.2,603.9 L427.9,603.8 L429.6,603.7 L431.3,603.6 L433.0,603.5 L434.7,603.4 L436.4,603.3 L438.0,603.2 L439.7,603.1 L441.4,602.9 L443.1,602.8 L444.8,602.7 L446.5,602.6 L448.2,602.5 L449.9,602.4 L451.5,602.2 L453.2,602.1 L454.9,602.0 L456.6,601.9 L458.3,601.7 L460.0,601.6 L461.7,601.5 L463.4,601.3 L465.0,601.2 L466.7,601.1 L468.4,600.9 L470.1,600.8 L471.8,600.6 L473.5,600.5 L475.2,600.3 L476.8,600.2 L478.5,600.0 L480.2,599.9 L481.9,599.7 L483.6,599.6 L485.3,599.4 L486.9,599.2 L488.6,599.1 L490.3,598.9 L492.0,598.7 L493.7,598.5 L495.4,598.4 L497.0,598.2 L498.7,598.0 L500.4,597.8 L502.1,597.6 L503.8,597.4 L505.5,597.3 L507.1,597.1 L508.8,596.9 L510.5,596.7 L512.2,596.5 L513.9,596.3 L515.5,596.1 L517.2,595.8 L518.9,595.6 L520.6,595.4 L522.3,595.2 L523.9,595.0 L525.6,594.7 L527.3,594.5 L529.0,594.3 L530.7,594.1 L532.3,593.8 L534.0,593.6 L535.7,593.3 L537.4,593.1 L539.1,592.9 L540.7,592.6 L542.4,592.4 L544.1,592.1 L545.8,591.8 L547.4,591.6 L549.1,591.3 L550.8,591.1 L552.5,590.8 L554.1,590.5 L555.8,590.2 L557.5,590.0 L559.2,589.7 L560.8,589.4 L562.5,589.1 L564.2,588.8 L565.9,588.5 L567.5,588.2 L569.2,587.9 L570.9,587.6 L572.6,587.3 L574.2,587.0 L575.9,586.7 L577.6,586.4 L579.3,586.0 L580.9,585.7 L582.6,585.4 L584.3,585.1 L585.9,584.7 L587.6,584.4 L589.3,584.1 L591.0,583.7 L592.6,583.4 L594.3,583.0 L596.0,582.6 L597.6,582.3 L599.3,581.9 L601.0,581.5 L602.6,581.2 L604.3,580.8 L606.0,580.4 L607.6,580.0 L609.3,579.6 L610.9,579.2 L612.6,578.8 L614.2,578.4 L615.9,578.0 L617.5,577.6 L619.2,577.2 L620.8,576.7 L622.5,576.3 L624.1,575.8 L625.8,575.4 L627.4,574.9 L629.1,574.5 L630.7,574.0 L632.3,573.5 L634.0,573.1 L635.6,572.6 L637.2,572.1 L638.8,571.6 L640.5,571.1 L642.1,570.6 L643.7,570.1 L645.3,569.5 L646.9,569.0 L648.5,568.5 L650.1,567.9 L651.7,567.4 L653.3,566.8 L654.9,566.3 L656.5,565.7 L658.1,565.1 L659.7,564.5 L661.3,563.9 L662.9,563.3 L664.5,562.7 L666.0,562.1 L667.6,561.5 L669.2,560.8 L670.7,560.2 L672.3,559.5 L673.8,558.9 L675.4,558.2 L676.9,557.5 L678.5,556.8 L680.0,556.1 L681.6,555.4 L683.1,554.7 L684.6,554.0 L686.1,553.3 L687.7,552.5 L689.2,551.8 L690.7,551.0 L692.2,550.3 L693.7,549.5 L695.2,548.7 L696.7,547.9 L698.2,547.1 L699.7,546.3 L701.1,545.5 L702.6,544.6 L704.1,543.8 L705.5,542.9 L707.0,542.1 L708.4,541.2 L709.9,540.3 L711.3,539.4 L712.8,538.5 L714.2,537.6 L715.6,536.6 L717.0,535.7 L718.5,534.8 L719.9,533.8 L721.3,532.8 L722.7,531.8 L724.0,530.8 L725.4,529.8 L726.8,528.8 L728.2,527.8 L729.5,526.7 L730.8,525.7 L732.2,524.6 L733.5,523.5 L734.8,522.4 L736.1,521.3 L737.4,520.2 L738.6,519.1 L739.9,517.9 L741.1,516.8 L742.4,515.6 L743.6,514.4 L744.8,513.3 L746.0,512.0 L747.1,510.8 L748.3,509.6 L749.4,508.4 L750.5,507.1 L751.6,505.8 L752.7,504.5 L753.8,503.2 L754.8,501.9 L755.8,500.6 L756.8,499.2 L757.8,497.9 L758.8,496.5 L759.7,495.1 L760.7,493.7 L761.6,492.3 L762.4,490.9 L763.3,489.5 L764.1,488.0 L765.0,486.6 L765.8,485.1 L766.5,483.6 L767.3,482.1 L768.0,480.6 L768.8,479.1 L769.5,477.6 L770.1,476.0 L770.8,474.5 L771.4,472.9 L772.1,471.4 L772.7,469.8 L773.2,468.2 L773.8,466.6 L774.3,465.0 L774.8,463.4 L775.3,461.8 L775.8,460.2 L776.3,458.6 L776.7,457.0 L777.1,455.3 L777.5,453.7 L777.9,452.0 L778.3,450.4 L778.7,448.7 L779.0,447.1 L779.3,445.4 L779.6,443.7 L779.9,442.1 L780.2,440.4 L780.5,438.7 L780.8,437.0 L781.0,435.3 L781.2,433.6 L781.5,431.9 L781.7,430.2 L781.9,428.5 L782.1,426.8 L782.2,425.1 L782.4,423.4 L782.6,421.7 L782.7,420.0 L782.9,418.2 L783.0,416.5 L783.2,414.8 L783.3,413.1 L783.4,411.4 L783.5,409.7 L783.6,408.0 L783.7,406.2 L783.8,404.5 L783.9,402.8 L784.0,401.1 L784.1,399.4 L784.2,397.7 L784.3,396.0 L784.4,394.3 L784.4,392.6 L784.5,390.9 L784.6,389.2 L784.7,387.5 L784.7,385.8 L784.8,384.1 L784.8,382.4 L784.9,380.7 L785.0,379.0 L785.0,377.3 L785.1,375.6 L785.1,373.9 L785.1,372.2 L785.2,370.5 L785.2,368.8 L785.3,367.1 L785.3,365.4 L785.3,363.7 L785.4,362.0 L785.4,360.3 L785.4,358.7 L785.4,357.0 L785.5,355.3 L785.5,353.6 L785.5,351.9 L785.5,350.2 L785.5,348.5 L785.6,346.8 L785.6,345.2 L785.6,343.5 L785.6,341.8 L785.6,340.1 L785.6,338.4 L785.6,336.7 L785.6,335.1 L785.6,333.4 L785.6,331.7 L785.7,330.0 L785.7,328.3 L785.7,326.6 L785.7,325.0 L785.7,323.3 L785.7,321.6 L785.7,319.9 L785.7,318.2 L785.7,316.5 L785.7,314.8 L785.7,313.2 L785.7,311.5 L785.7,309.8 L785.7,308.1 L785.7,306.4 L785.7,304.7 L785.7,303.0 L785.7,301.4 L785.7,299.7 L785.7,298.0 L785.7,296.3 L785.7,294.6 L785.7,292.9 L785.7,291.2 L785.7,289.5 L785.7,287.8 L785.7,286.2 L785.8,284.5 L785.8,282.8 L785.8,281.1 L785.8,279.4 L785.8,277.7 L785.8,276.0 L785.8,274.3 L785.9,272.6 L785.9,270.9 L785.9,269.2 L785.9,267.5 L785.9,265.8 L786.0,264.1 L786.0,262.4 L786.0,260.7 L786.1,259.0 L786.1,257.3 L786.1,255.6 L786.2,253.9 L786.2,252.1 L786.3,250.4 L786.3,248.7 L786.4,247.0 L786.4,245.3 L786.5,243.6 L786.5,241.9" stroke="#ff0000"/>
<path d="M786.4,241.4V336" stroke="#ff0000" stroke-width="4.2"/>
</g>
<g stroke="#000" stroke-width="2.4">
<path d="M199.0,273.2H239.5"/>
<path d="M199.0,453.5H239.5"/>
<path d="M199.0,570.3H239.5"/>
</g>
<g font-family="Liberation Sans, sans-serif" stroke-width="0.2" paint-order="stroke">
<text x="423" y="180.8" font-size="21.3" fill="#111" stroke="#111" text-anchor="start" textLength="192" lengthAdjust="spacingAndGlyphs">L3 multipath period</text>
<text x="248.5" y="280.7270622051452" font-size="21" fill="#111" stroke="#111" text-anchor="start" textLength="62.5" lengthAdjust="spacingAndGlyphs">1 hour</text>
<text x="247.8" y="461.5222757115016" font-size="21" fill="#111" stroke="#111" text-anchor="start" textLength="97.8" lengthAdjust="spacingAndGlyphs">5 minutes</text>
<text x="248.5" y="577.9968644359059" font-size="21" fill="#111" stroke="#111" text-anchor="start" textLength="86" lengthAdjust="spacingAndGlyphs">1 minute</text>
<text x="557.2" y="331.7" font-size="21" fill="#111" stroke="#111" text-anchor="start" textLength="95.3" lengthAdjust="spacingAndGlyphs">0.5 meter</text>
<text x="557.5" y="417.2" font-size="21" fill="#0000ff" stroke="#0000ff" text-anchor="start" textLength="95" lengthAdjust="spacingAndGlyphs">1.5 meter</text>
<text x="558.5" y="498.5" font-size="21" fill="#11ee11" stroke="#11ee11" text-anchor="start" textLength="74.7" lengthAdjust="spacingAndGlyphs">5 meter</text>
<text x="558" y="623.6" font-size="21" fill="#ff0000" stroke="#ff0000" text-anchor="start" textLength="87.8" lengthAdjust="spacingAndGlyphs">25 meter</text>
<text x="502.9" y="664.8" font-size="21" fill="#111" stroke="#111" text-anchor="start" textLength="198" lengthAdjust="spacingAndGlyphs">Horizontal Reflector</text>
<text x="389.4" y="748.8" font-size="21" fill="#111" stroke="#111" text-anchor="start" textLength="257.2" lengthAdjust="spacingAndGlyphs">elevation angle (degrees)</text>
<text x="188.2" y="725.0" font-size="22.2" fill="#111" stroke="#111" text-anchor="start" textLength="24.0" lengthAdjust="spacingAndGlyphs" stroke-width="0.5">10</text>
<text x="267.6" y="725.0" font-size="22.2" fill="#111" stroke="#111" text-anchor="start" textLength="24.0" lengthAdjust="spacingAndGlyphs" stroke-width="0.5">20</text>
<text x="347.0" y="725.0" font-size="22.2" fill="#111" stroke="#111" text-anchor="start" textLength="24.0" lengthAdjust="spacingAndGlyphs" stroke-width="0.5">30</text>
<text x="426.4" y="725.0" font-size="22.2" fill="#111" stroke="#111" text-anchor="start" textLength="24.0" lengthAdjust="spacingAndGlyphs" stroke-width="0.5">40</text>
<text x="505.8" y="725.0" font-size="22.2" fill="#111" stroke="#111" text-anchor="start" textLength="24.0" lengthAdjust="spacingAndGlyphs" stroke-width="0.5">50</text>
<text x="585.2" y="725.0" font-size="22.2" fill="#111" stroke="#111" text-anchor="start" textLength="24.0" lengthAdjust="spacingAndGlyphs" stroke-width="0.5">60</text>
<text x="664.6" y="725.0" font-size="22.2" fill="#111" stroke="#111" text-anchor="start" textLength="24.0" lengthAdjust="spacingAndGlyphs" stroke-width="0.5">70</text>
<text x="744.0" y="725.0" font-size="22.2" fill="#111" stroke="#111" text-anchor="start" textLength="24.0" lengthAdjust="spacingAndGlyphs" stroke-width="0.5">80</text>
<text x="823.4" y="725.0" font-size="22.2" fill="#111" stroke="#111" text-anchor="start" textLength="24.0" lengthAdjust="spacingAndGlyphs" stroke-width="0.5">90</text>
<text x="162.8" y="207.0" font-size="22.2" fill="#111" stroke="#111" text-anchor="start" textLength="23.2" lengthAdjust="spacingAndGlyphs" stroke-width="0.5">10</text>
<text x="187.0" y="192.7" font-size="13.8" fill="#111" stroke="#111" text-anchor="start" textLength="8.0" lengthAdjust="spacingAndGlyphs" stroke-width="0.4">4</text>
<text x="162.8" y="375.2" font-size="22.2" fill="#111" stroke="#111" text-anchor="start" textLength="23.2" lengthAdjust="spacingAndGlyphs" stroke-width="0.5">10</text>
<text x="187.0" y="360.9" font-size="13.8" fill="#111" stroke="#111" text-anchor="start" textLength="8.0" lengthAdjust="spacingAndGlyphs" stroke-width="0.4">3</text>
<text x="162.8" y="541.8" font-size="22.2" fill="#111" stroke="#111" text-anchor="start" textLength="23.2" lengthAdjust="spacingAndGlyphs" stroke-width="0.5">10</text>
<text x="187.0" y="527.2" font-size="13.8" fill="#111" stroke="#111" text-anchor="start" textLength="8.0" lengthAdjust="spacingAndGlyphs" stroke-width="0.4">2</text>
<text x="162.8" y="709.9" font-size="22.2" fill="#111" stroke="#111" text-anchor="start" textLength="23.2" lengthAdjust="spacingAndGlyphs" stroke-width="0.5">10</text>
<text x="188.3" y="695.8" font-size="13.8" fill="#111" stroke="#111" text-anchor="start" textLength="5.0" lengthAdjust="spacingAndGlyphs" stroke-width="0.4">1</text>
<text transform="translate(150,449.6) rotate(-90)" font-size="21" fill="#111" stroke="#111" text-anchor="middle" textLength="81.6" lengthAdjust="spacingAndGlyphs">seconds</text>
</g>
<text x="1003" y="741.4" font-family="Liberation Sans, sans-serif" font-size="20" fill="#0a1850">8</text>
</svg>
</body></html>
